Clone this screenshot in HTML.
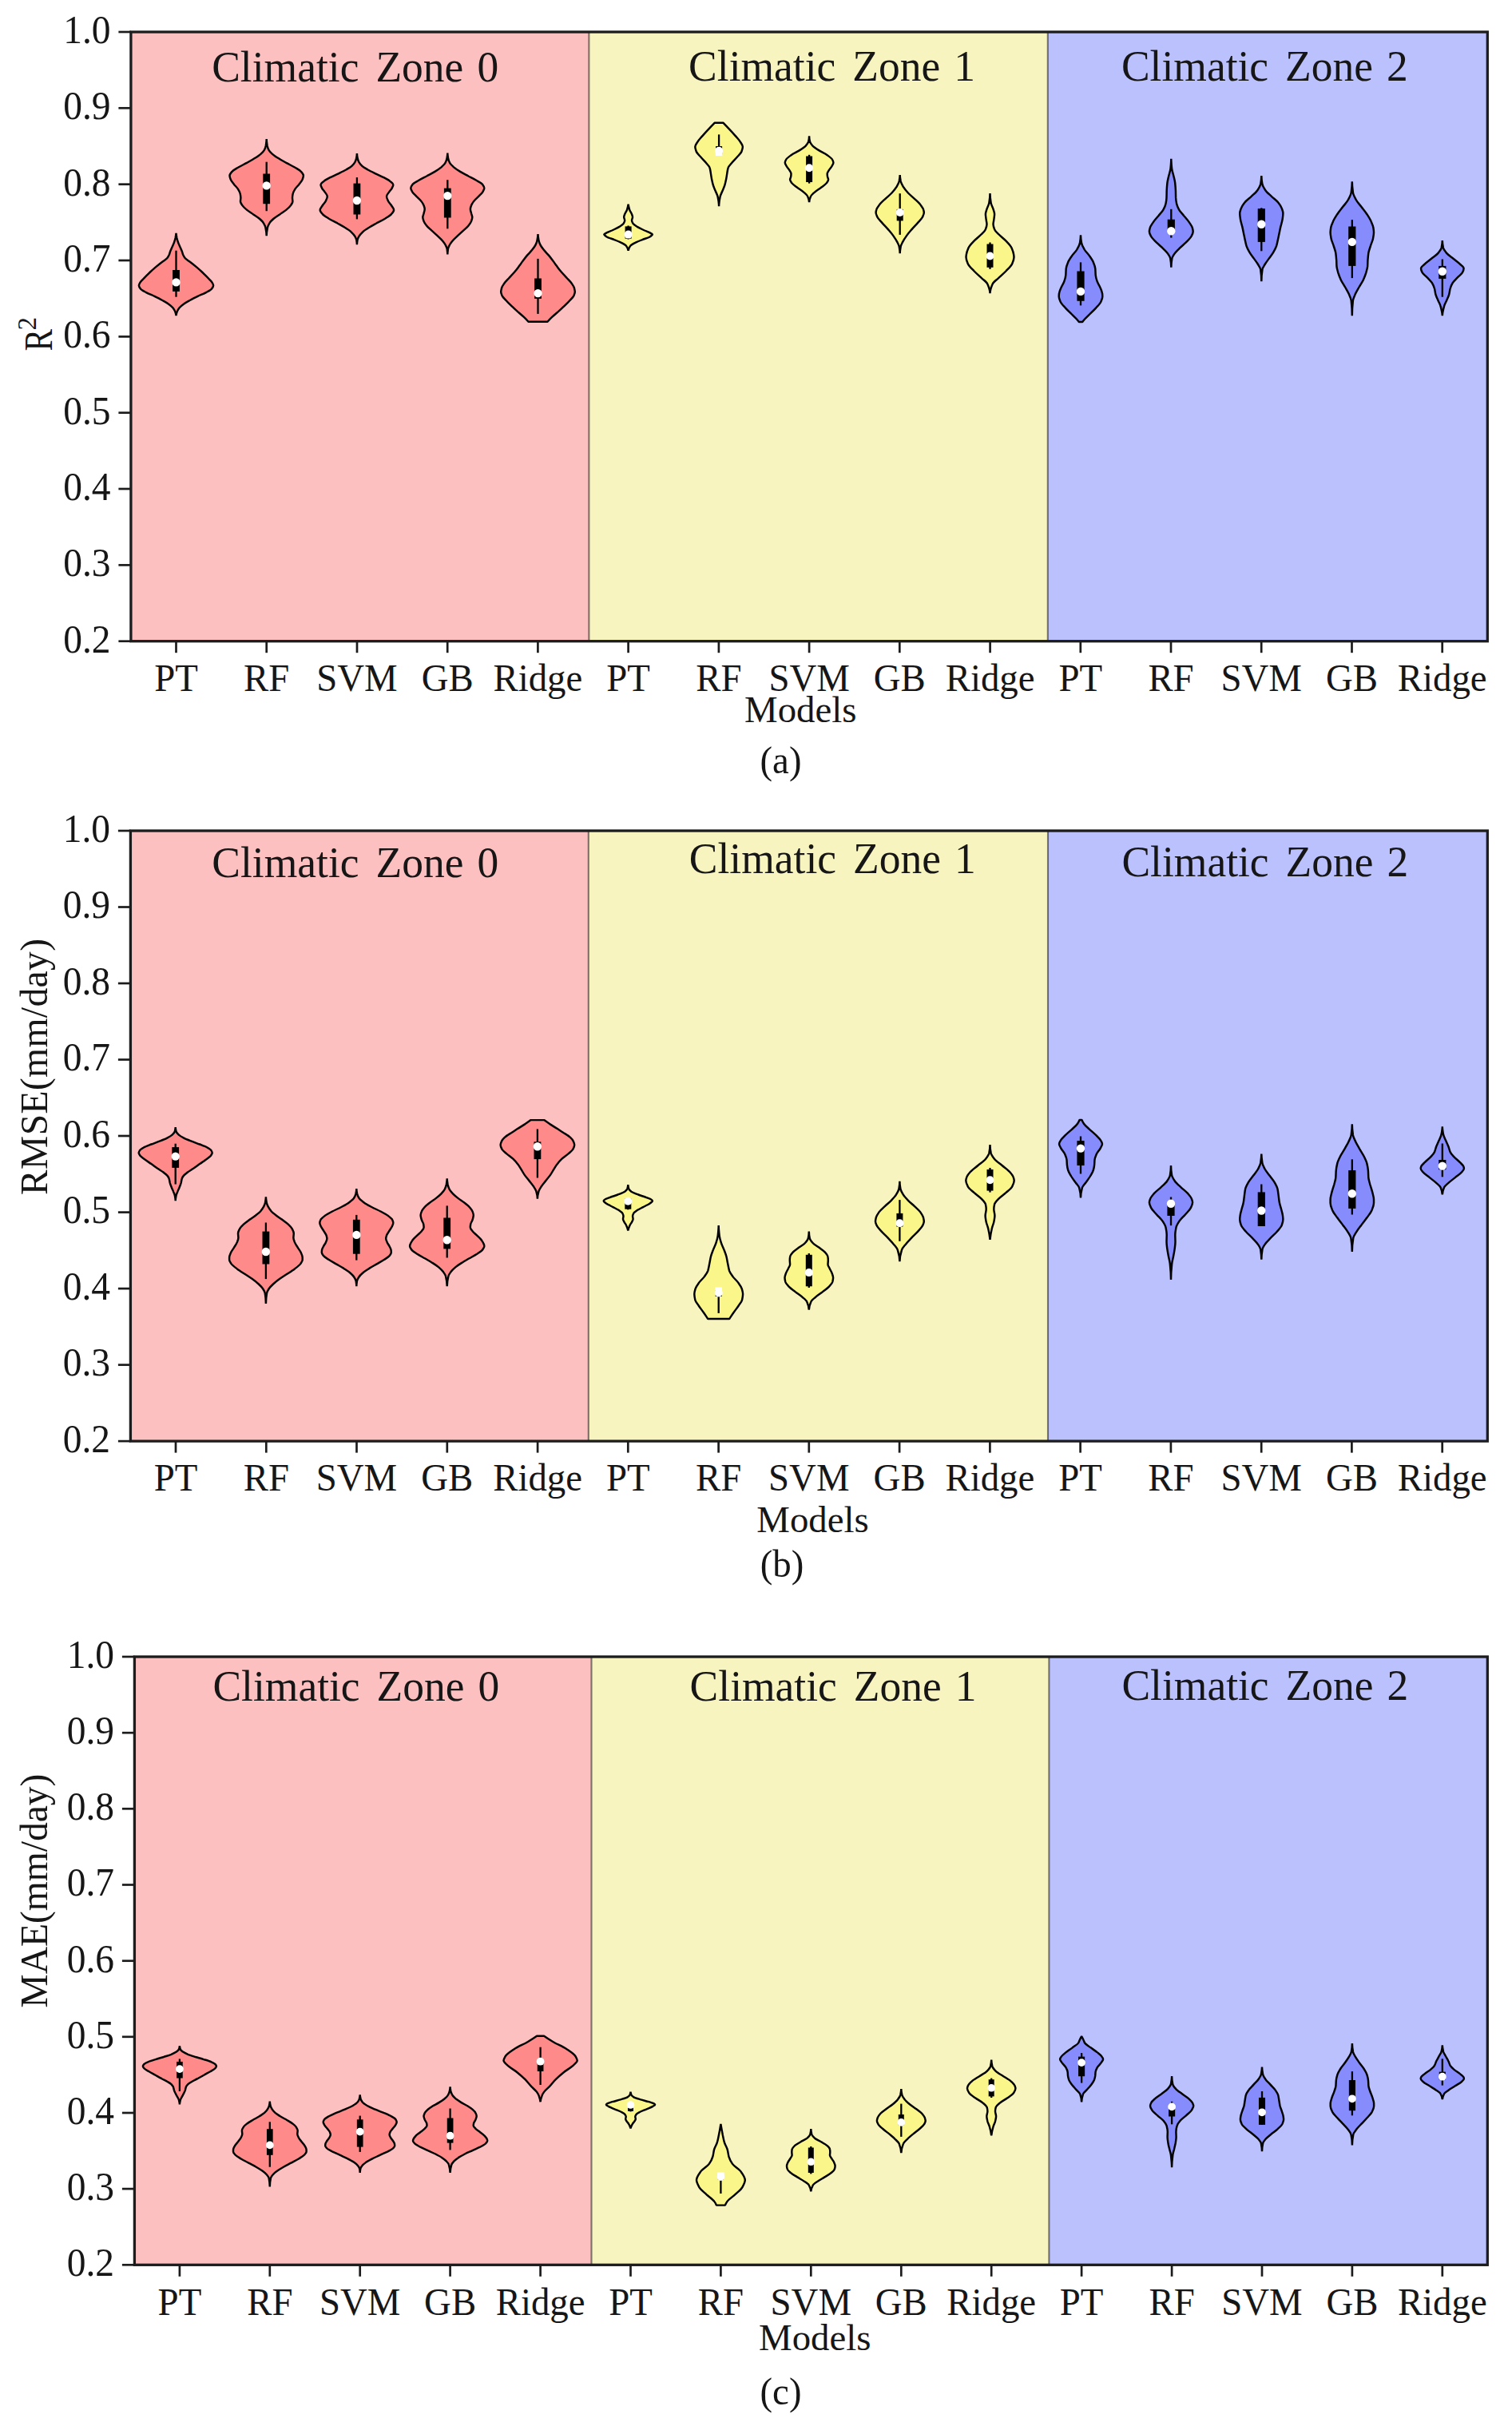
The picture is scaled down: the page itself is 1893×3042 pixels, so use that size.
<!DOCTYPE html>
<html lang="en">
<head>
<meta charset="utf-8">
<title>Model performance by climatic zone</title>
<style>
html,body{margin:0;padding:0;background:#fff;}
body{width:1893px;height:3042px;overflow:hidden;}
svg{display:block;}
</style>
</head>
<body>
<svg width="1893" height="3042" viewBox="0 0 1893 3042" font-family='"Liberation Serif", "Times New Roman", Times, serif' fill="#161616">
<rect width="1893" height="3042" fill="#fff"/>
<g id="panel-a">
<rect x="163.9" y="40" width="573.5" height="762.7" fill="#fdc0c0"/>
<rect x="737.4" y="40" width="574.4" height="762.7" fill="#f8f4c0"/>
<rect x="1311.8" y="40" width="550.5" height="762.7" fill="#bbc1fd"/>
<line x1="737.4" y1="40" x2="737.4" y2="802.7" stroke="#000" stroke-opacity="0.5" stroke-width="2.1"/>
<line x1="1311.8" y1="40" x2="1311.8" y2="802.7" stroke="#000" stroke-opacity="0.5" stroke-width="2.1"/>
<path d="M220.5 291.9C220.7 293.9 221 295.9 221.4 297.9C221.8 299.7 222.4 301.6 223 303.4C223.6 305.3 224.6 307.1 225.4 309C226.2 310.8 227.1 312.7 227.8 314.5C228.4 316.1 228.7 317.7 229.4 319.3C230 320.6 230.7 322 231.8 323.3C233.1 324.9 236.1 326.4 238.1 328C240.9 330.1 243.6 332.3 246.1 334.4C248.9 336.8 251.5 339.1 254 341.5C256.8 344.2 259.5 346.8 261.9 349.5C263.3 351.1 265.1 352.6 265.9 354.2C266.4 355.3 267.1 356.3 267.1 357.4C267.1 358.7 266.1 360.1 265.1 361.4C263.9 363 260.8 364.5 258 366.1C255.2 367.7 250.9 369.3 247.6 370.9C244.3 372.5 241 374.1 238.1 375.7C235.3 377.3 232.4 378.8 230.2 380.4C228 382 225.9 383.6 224.6 385.2C223.4 386.8 222.4 388.3 221.8 389.9C221.2 391.6 220.6 393.4 220.5 395.1C220.4 393.4 219.8 391.6 219.2 389.9C218.6 388.3 217.6 386.8 216.4 385.2C215.1 383.6 213 382 210.8 380.4C208.6 378.8 205.7 377.3 202.9 375.7C200 374.1 196.7 372.5 193.4 370.9C190.1 369.3 185.8 367.7 183 366.1C180.2 364.5 177.1 363 175.9 361.4C174.9 360.1 173.9 358.7 173.9 357.4C173.9 356.3 174.6 355.3 175.1 354.2C175.9 352.6 177.7 351.1 179.1 349.5C181.5 346.8 184.2 344.2 187 341.5C189.5 339.1 192.1 336.8 194.9 334.4C197.4 332.3 200.1 330.1 202.9 328C204.9 326.4 207.9 324.9 209.2 323.3C210.3 322 211 320.6 211.6 319.3C212.3 317.7 212.6 316.1 213.2 314.5C213.9 312.7 214.8 310.8 215.6 309C216.4 307.1 217.4 305.3 218 303.4C218.6 301.6 219.2 299.7 219.6 297.9C220 295.9 220.3 293.9 220.5 291.9Z" fill="#ff8a8a" stroke="#000" stroke-width="2.45" stroke-linejoin="bevel"/>
<line x1="220.5" y1="313.7" x2="220.5" y2="371.7" stroke="#000" stroke-width="2.3"/>
<line x1="220.5" y1="338" x2="220.5" y2="364.9" stroke="#000" stroke-width="8.8"/>
<circle cx="220.5" cy="353.4" r="5.2" fill="#fff"/>
<path d="M333.7 174.1C333.7 176.9 334.2 179.7 334.6 182.5C335 184.3 335.7 186.2 336.6 188C337.4 189.6 339.2 191.2 341 192.8C343 194.6 346 196.5 348.9 198.3C351.8 200.2 355.2 202 358.5 203.9C362 205.9 366.4 207.8 369.6 209.8C372.2 211.4 375.3 213 376.7 214.6C378.2 216.3 379.9 218.1 379.9 219.8C379.9 221.4 379.3 222.9 378.7 224.5C377.9 226.6 375.9 228.8 374.3 230.9C372.9 232.7 370.8 234.6 369.6 236.4C368.4 238.3 367.2 240.1 366.8 242C366.4 243.8 366 245.7 366 247.5C366 249.1 366.4 250.7 366.4 252.3C366.4 253.9 365.1 255.5 364 257.1C362.8 258.9 360.7 260.8 358.5 262.6C356.3 264.5 353.2 266.3 350.5 268.2C347.9 270 344.7 271.9 342.6 273.7C340.5 275.6 338.5 277.4 337.4 279.3C336.3 281.1 335.4 283 335 284.8C334.3 288.3 333.7 291.7 333.7 295.2C333.7 291.7 333.1 288.3 332.4 284.8C332 283 331.1 281.1 330 279.3C328.9 277.4 326.9 275.6 324.8 273.7C322.7 271.9 319.5 270 316.9 268.2C314.2 266.3 311.1 264.5 308.9 262.6C306.7 260.8 304.6 258.9 303.4 257.1C302.3 255.5 301 253.9 301 252.3C301 250.7 301.4 249.1 301.4 247.5C301.4 245.7 301 243.8 300.6 242C300.2 240.1 299 238.3 297.8 236.4C296.6 234.6 294.5 232.7 293.1 230.9C291.5 228.8 289.5 226.6 288.7 224.5C288.1 222.9 287.5 221.4 287.5 219.8C287.5 218.1 289.2 216.3 290.7 214.6C292.1 213 295.2 211.4 297.8 209.8C301 207.8 305.4 205.9 308.9 203.9C312.2 202 315.6 200.2 318.5 198.3C321.4 196.5 324.4 194.6 326.4 192.8C328.2 191.2 330 189.6 330.8 188C331.7 186.2 332.4 184.3 332.8 182.5C333.2 179.7 333.7 176.9 333.7 174.1Z" fill="#ff8a8a" stroke="#000" stroke-width="2.45" stroke-linejoin="bevel"/>
<line x1="333.7" y1="202.7" x2="333.7" y2="264.2" stroke="#000" stroke-width="2.3"/>
<line x1="333.7" y1="217.5" x2="333.7" y2="255.2" stroke="#000" stroke-width="8.8"/>
<circle cx="333.7" cy="232.4" r="5.2" fill="#fff"/>
<path d="M446.9 191.9C446.9 194 447.3 196.2 447.7 198.3C448 199.9 448.6 201.4 449.4 203C450.2 204.6 451.7 206.2 453.4 207.8C455.1 209.4 457.9 210.9 460.6 212.5C463.4 214.1 466.8 215.7 470.1 217.3C473.4 218.9 477.4 220.5 480.4 222.1C483.4 223.7 486.5 225.2 488.3 226.8C490 228.3 492.3 229.7 492.3 231.2C492.3 232.7 491.4 234.1 490.7 235.6C489.9 237.2 488.1 238.7 487.1 240.3C485.9 242.2 484 244 484 245.9C484 247.7 485 249.6 485.9 251.4C486.8 253.3 488.7 255.1 489.9 257C491.1 259 493.1 260.9 493.1 262.9C493.1 264.6 491.4 266.4 489.9 268.1C488.3 270 485 271.8 482 273.7C479 275.5 475 277.4 471.7 279.2C468.4 281.1 465 282.9 462.1 284.8C459.2 286.6 456.2 288.5 454.2 290.3C452.2 292.2 450.4 294 449.4 295.9C448.5 297.5 447.8 299 447.5 300.6C447.2 302.5 446.9 304.3 446.9 306.2C446.9 304.3 446.6 302.5 446.3 300.6C446 299 445.3 297.5 444.4 295.9C443.4 294 441.6 292.2 439.6 290.3C437.6 288.5 434.6 286.6 431.7 284.8C428.8 282.9 425.4 281.1 422.1 279.2C418.8 277.4 414.8 275.5 411.8 273.7C408.8 271.8 405.5 270 403.9 268.1C402.4 266.4 400.7 264.6 400.7 262.9C400.7 260.9 402.7 259 403.9 257C405.1 255.1 407 253.3 407.9 251.4C408.8 249.6 409.8 247.7 409.8 245.9C409.8 244 407.9 242.2 406.7 240.3C405.7 238.7 403.9 237.2 403.1 235.6C402.4 234.1 401.5 232.7 401.5 231.2C401.5 229.7 403.8 228.3 405.5 226.8C407.3 225.2 410.4 223.7 413.4 222.1C416.4 220.5 420.4 218.9 423.7 217.3C427 215.7 430.4 214.1 433.2 212.5C435.9 210.9 438.7 209.4 440.4 207.8C442.1 206.2 443.6 204.6 444.4 203C445.2 201.4 445.8 199.9 446.1 198.3C446.5 196.2 446.9 194 446.9 191.9Z" fill="#ff8a8a" stroke="#000" stroke-width="2.45" stroke-linejoin="bevel"/>
<line x1="446.9" y1="222.1" x2="446.9" y2="274.4" stroke="#000" stroke-width="2.3"/>
<line x1="446.9" y1="229.6" x2="446.9" y2="268.5" stroke="#000" stroke-width="8.8"/>
<circle cx="446.9" cy="251" r="5.2" fill="#fff"/>
<path d="M560.3 191.5C560.3 193.8 560.7 196 561.1 198.3C561.4 200.1 562.1 202 563.1 203.8C564.1 205.7 566.1 207.5 568.2 209.4C570.3 211.2 573.2 213.1 576.2 214.9C579.2 216.8 583 218.6 586.5 220.5C589.9 222.3 593.8 224.2 596.8 226C599.5 227.6 602.8 229.2 604 230.8C605.2 232.4 606.3 234 606.3 235.6C606.3 237.2 605.2 238.7 604.3 240.3C603.2 242.2 601 244 599.2 245.9C597.4 247.7 595 249.6 593.6 251.4C592.2 253.3 590.8 255.1 590.1 257C589.5 258.6 588.9 260.1 588.9 261.7C588.9 263.6 589.7 265.4 590.1 267.3C590.5 268.9 591.3 270.5 591.3 272.1C591.3 273.7 590.7 275.2 590.1 276.8C589.4 278.7 588 280.5 586.5 282.4C584.9 284.5 582.3 286.6 580.1 288.7C577.8 290.8 575.3 293 573 295.1C570.8 297.2 568.3 299.3 566.6 301.4C565.1 303.3 563.6 305.1 562.7 307C561.9 308.6 561.1 310.1 560.9 311.7C560.6 314 560.3 316.2 560.3 318.5C560.3 316.2 560 314 559.7 311.7C559.5 310.1 558.7 308.6 557.9 307C557 305.1 555.5 303.3 554 301.4C552.3 299.3 549.8 297.2 547.6 295.1C545.3 293 542.8 290.8 540.5 288.7C538.3 286.6 535.7 284.5 534.1 282.4C532.6 280.5 531.2 278.7 530.5 276.8C529.9 275.2 529.3 273.7 529.3 272.1C529.3 270.5 530.1 268.9 530.5 267.3C530.9 265.4 531.7 263.6 531.7 261.7C531.7 260.1 531.1 258.6 530.5 257C529.8 255.1 528.4 253.3 527 251.4C525.6 249.6 523.2 247.7 521.4 245.9C519.6 244 517.4 242.2 516.3 240.3C515.4 238.7 514.3 237.2 514.3 235.6C514.3 234 515.4 232.4 516.6 230.8C517.8 229.2 521.1 227.6 523.8 226C526.8 224.2 530.7 222.3 534.1 220.5C537.6 218.6 541.4 216.8 544.4 214.9C547.4 213.1 550.3 211.2 552.4 209.4C554.5 207.5 556.5 205.7 557.5 203.8C558.5 202 559.2 200.1 559.5 198.3C559.9 196 560.3 193.8 560.3 191.5Z" fill="#ff8a8a" stroke="#000" stroke-width="2.45" stroke-linejoin="bevel"/>
<line x1="560.3" y1="225.2" x2="560.3" y2="286.3" stroke="#000" stroke-width="2.3"/>
<line x1="560.3" y1="235.6" x2="560.3" y2="272.5" stroke="#000" stroke-width="8.8"/>
<circle cx="560.3" cy="245.1" r="5.2" fill="#fff"/>
<path d="M673.5 292.9C673.5 295.6 674 298.2 674.5 300.9C674.8 302.7 675.5 304.6 676.4 306.4C677.4 308.5 679.1 310.7 680.8 312.8C682.6 315.2 685.2 317.5 687.2 319.9C689.2 322.3 690.9 324.7 692.7 327.1C694.1 328.9 695.3 330.8 696.7 332.6C698.5 335 700.2 337.4 702.2 339.8C704.4 342.4 707 345.1 709.4 347.7C711.5 350.1 714.1 352.4 715.7 354.8C717 356.7 718.4 358.5 718.9 360.4C719.3 362 719.8 363.6 719.8 365.2C719.8 366.8 719.1 368.3 718.5 369.9C717.6 372 715.2 374.2 713.3 376.3C711.2 378.7 708.7 381 706.2 383.4C703.7 385.8 701 388.2 698.3 390.6C695.9 392.7 693.3 394.8 691.1 396.9C689.1 398.8 687.2 400.8 685.5 402.7L661.5 402.7C659.8 400.8 657.9 398.8 655.9 396.9C653.7 394.8 651.1 392.7 648.7 390.6C646 388.2 643.3 385.8 640.8 383.4C638.3 381 635.8 378.7 633.7 376.3C631.8 374.2 629.4 372 628.5 369.9C627.9 368.3 627.2 366.8 627.2 365.2C627.2 363.6 627.7 362 628.1 360.4C628.6 358.5 630 356.7 631.3 354.8C632.9 352.4 635.5 350.1 637.6 347.7C640 345.1 642.6 342.4 644.8 339.8C646.8 337.4 648.5 335 650.3 332.6C651.7 330.8 652.9 328.9 654.3 327.1C656.1 324.7 657.8 322.3 659.8 319.9C661.8 317.5 664.4 315.2 666.2 312.8C667.9 310.7 669.6 308.5 670.6 306.4C671.5 304.6 672.2 302.7 672.5 300.9C673 298.2 673.5 295.6 673.5 292.9Z" fill="#ff8a8a" stroke="#000" stroke-width="2.45" stroke-linejoin="bevel"/>
<line x1="673.5" y1="323.9" x2="673.5" y2="392.9" stroke="#000" stroke-width="2.3"/>
<line x1="673.5" y1="348.5" x2="673.5" y2="373.9" stroke="#000" stroke-width="8.8"/>
<circle cx="673.5" cy="367.1" r="5.2" fill="#fff"/>
<path d="M786.6 255.7C786.8 257.9 787.4 260.1 788.1 262.3C788.7 264.2 790.3 266.2 791 268.1C791.4 269.3 792 270.5 792 271.7C792 273.2 791 274.6 791 276.1C791 277.3 791.7 278.5 792.4 279.7C793.3 281.2 795.9 282.6 798.2 284.1C800.5 285.6 803.9 287 807 288.5C809.5 289.7 813.1 290.9 815 292.1C815.8 292.6 816.9 293.1 816.9 293.6C816.9 294.6 815 295.5 813.5 296.5C811.6 297.7 807.1 298.9 804.1 300.1C801 301.3 797.7 302.6 795.3 303.8C793 305 790.4 306.2 789.5 307.4C787.9 309.6 786.6 311.7 786.6 313.9C786.6 311.7 785.3 309.6 783.7 307.4C782.8 306.2 780.2 305 777.9 303.8C775.5 302.6 772.2 301.3 769.1 300.1C766.1 298.9 761.6 297.7 759.7 296.5C758.2 295.5 756.3 294.6 756.3 293.6C756.3 293.1 757.4 292.6 758.2 292.1C760.1 290.9 763.7 289.7 766.2 288.5C769.3 287 772.7 285.6 775 284.1C777.3 282.6 779.9 281.2 780.8 279.7C781.5 278.5 782.2 277.3 782.2 276.1C782.2 274.6 781.2 273.2 781.2 271.7C781.2 270.5 781.8 269.3 782.2 268.1C782.9 266.2 784.5 264.2 785.1 262.3C785.8 260.1 786.4 257.9 786.6 255.7Z" fill="#faf68a" stroke="#000" stroke-width="2.45" stroke-linejoin="bevel"/>
<line x1="786.6" y1="282.5" x2="786.6" y2="299.5" stroke="#000" stroke-width="2.3"/>
<line x1="786.6" y1="283.4" x2="786.6" y2="298.7" stroke="#000" stroke-width="8"/>
<circle cx="786.6" cy="293.6" r="5" fill="#fff"/>
<path d="M905.6 153.8C908.2 156.5 910.7 159.1 913.2 161.8C915.9 164.7 918.7 167.7 921.2 170.6C923.2 173 925.5 175.4 927 177.8C928.2 179.8 929.9 181.7 929.9 183.7C929.9 185.6 929.2 187.6 928.5 189.5C927.6 191.9 924.8 194.4 922.7 196.8C920.7 199.2 918.1 201.6 916.1 204C914.5 206 912.3 207.9 911.7 209.9C910.9 212.3 910.7 214.7 910.3 217.1C909.9 219.5 909.6 222 909.1 224.4C908.6 226.8 908.1 229.3 907.4 231.7C906.7 234.1 905.5 236.6 904.5 239C903.5 241.4 902.1 243.9 901.6 246.3C900.8 250.3 900.1 254.2 900.1 258.2C900.1 254.2 899.4 250.3 898.6 246.3C898.1 243.9 896.7 241.4 895.7 239C894.7 236.6 893.5 234.1 892.8 231.7C892.1 229.3 891.6 226.8 891.1 224.4C890.6 222 890.3 219.5 889.9 217.1C889.5 214.7 889.3 212.3 888.5 209.9C887.9 207.9 885.7 206 884.1 204C882.1 201.6 879.5 199.2 877.5 196.8C875.4 194.4 872.6 191.9 871.7 189.5C871 187.6 870.3 185.6 870.3 183.7C870.3 181.7 872 179.8 873.2 177.8C874.7 175.4 877 173 879 170.6C881.5 167.7 884.3 164.7 887 161.8C889.5 159.1 892 156.5 894.6 153.8Z" fill="#faf68a" stroke="#000" stroke-width="2.45" stroke-linejoin="bevel"/>
<line x1="900.1" y1="168.4" x2="900.1" y2="193.5" stroke="#000" stroke-width="2.3"/>
<line x1="900.1" y1="183" x2="900.1" y2="193.5" stroke="#000" stroke-width="8"/>
<rect x="895.8" y="187.5" width="8.6" height="7.5" fill="#fff"/>
<circle cx="900.1" cy="188.8" r="5" fill="#fff"/>
<path d="M1013.1 170.2C1013.1 172.6 1013.5 175.1 1014.1 177.5C1014.5 179.2 1016 180.9 1017.5 182.6C1019.2 184.5 1022.5 186.5 1025.5 188.4C1028.5 190.3 1033.1 192.3 1035.7 194.2C1038.3 196.1 1041.3 198.1 1042.2 200C1042.8 201.2 1043.4 202.5 1043.4 203.7C1043.4 205.1 1042.3 206.6 1041.5 208C1040.6 209.7 1038.8 211.4 1037.8 213.1C1037 214.6 1035.7 216 1035.7 217.5C1035.7 218.7 1035.8 219.9 1036 221.1C1036.2 222.3 1037.1 223.6 1037.1 224.8C1037.1 226.2 1035.9 227.7 1034.9 229.1C1033.5 231.1 1030.2 233 1027.7 235C1025.2 236.9 1021.8 238.9 1019.7 240.8C1017.8 242.5 1015.7 244.2 1015 245.9C1014 248.3 1013.1 250.8 1013.1 253.2C1013.1 250.8 1012.2 248.3 1011.2 245.9C1010.5 244.2 1008.4 242.5 1006.5 240.8C1004.4 238.9 1001 236.9 998.5 235C996 233 992.7 231.1 991.3 229.1C990.3 227.7 989.1 226.2 989.1 224.8C989.1 223.6 990 222.3 990.2 221.1C990.4 219.9 990.5 218.7 990.5 217.5C990.5 216 989.2 214.6 988.4 213.1C987.4 211.4 985.6 209.7 984.7 208C983.9 206.6 982.8 205.1 982.8 203.7C982.8 202.5 983.4 201.2 984 200C984.9 198.1 987.9 196.1 990.5 194.2C993.1 192.3 997.7 190.3 1000.7 188.4C1003.7 186.5 1007 184.5 1008.7 182.6C1010.2 180.9 1011.7 179.2 1012.1 177.5C1012.7 175.1 1013.1 172.6 1013.1 170.2Z" fill="#faf68a" stroke="#000" stroke-width="2.45" stroke-linejoin="bevel"/>
<line x1="1013.1" y1="193.8" x2="1013.1" y2="229.6" stroke="#000" stroke-width="2.3"/>
<line x1="1013.1" y1="195.5" x2="1013.1" y2="228" stroke="#000" stroke-width="8"/>
<circle cx="1013.1" cy="210.2" r="5" fill="#fff"/>
<path d="M1126.7 219C1126.7 221.7 1127.2 224.3 1127.7 227C1128.2 229.4 1129.7 231.8 1131.1 234.2C1132.5 236.6 1134.7 239.1 1136.9 241.5C1139.1 243.9 1142.4 246.4 1144.9 248.8C1147.4 251.2 1150.4 253.7 1152.2 256.1C1153.8 258.3 1155.7 260.4 1156.2 262.6C1156.5 263.8 1156.8 265.1 1156.8 266.3C1156.8 268 1155.9 269.7 1155.1 271.4C1154 273.8 1151.4 276.2 1149.3 278.6C1147 281.3 1144.3 283.9 1142 286.6C1139.7 289.3 1137.3 291.9 1135.4 294.6C1133.5 297.3 1131.7 299.9 1130.3 302.6C1129.3 304.6 1128.1 306.5 1127.7 308.5C1127.2 311.4 1126.7 314.3 1126.7 317.2C1126.7 314.3 1126.2 311.4 1125.7 308.5C1125.3 306.5 1124.1 304.6 1123.1 302.6C1121.7 299.9 1119.9 297.3 1118 294.6C1116.1 291.9 1113.7 289.3 1111.4 286.6C1109.1 283.9 1106.4 281.3 1104.1 278.6C1102 276.2 1099.4 273.8 1098.3 271.4C1097.5 269.7 1096.6 268 1096.6 266.3C1096.6 265.1 1096.9 263.8 1097.2 262.6C1097.7 260.4 1099.6 258.3 1101.2 256.1C1103 253.7 1106 251.2 1108.5 248.8C1111 246.4 1114.3 243.9 1116.5 241.5C1118.7 239.1 1120.9 236.6 1122.3 234.2C1123.7 231.8 1125.2 229.4 1125.7 227C1126.2 224.3 1126.7 221.7 1126.7 219Z" fill="#faf68a" stroke="#000" stroke-width="2.45" stroke-linejoin="bevel"/>
<line x1="1126.7" y1="242.2" x2="1126.7" y2="293.9" stroke="#000" stroke-width="2.3"/>
<line x1="1126.7" y1="261.9" x2="1126.7" y2="276.4" stroke="#000" stroke-width="8"/>
<circle cx="1126.7" cy="266" r="5" fill="#fff"/>
<path d="M1239.5 241.9C1239.5 245.9 1240 249.8 1240.6 253.8C1241 256.4 1242.7 259.1 1243.5 261.7C1244.1 263.8 1245.1 266 1245.1 268.1C1245.1 270.5 1244.6 272.8 1244.3 275.2C1244.1 277.1 1243.5 278.9 1243.5 280.8C1243.5 282.9 1244.3 285 1245.1 287.1C1245.9 289.2 1248.5 291.4 1250.6 293.5C1253.1 296.1 1256.8 298.8 1259.3 301.4C1262.1 304.3 1265.2 307.3 1266.5 310.2C1267.8 313.1 1268.8 316 1269.2 318.9C1269.3 320 1269.5 321 1269.5 322.1C1269.5 324.7 1268.4 327.4 1267.3 330C1266 333.2 1262.3 336.3 1259.3 339.5C1256.5 342.4 1252.8 345.4 1249.8 348.3C1247.3 350.7 1243.8 353 1242.7 355.4C1240.9 359.4 1239.5 363.3 1239.5 367.3C1239.5 363.3 1238.1 359.4 1236.3 355.4C1235.2 353 1231.7 350.7 1229.2 348.3C1226.2 345.4 1222.5 342.4 1219.7 339.5C1216.7 336.3 1213 333.2 1211.7 330C1210.6 327.4 1209.5 324.7 1209.5 322.1C1209.5 321 1209.7 320 1209.8 318.9C1210.2 316 1211.2 313.1 1212.5 310.2C1213.8 307.3 1216.9 304.3 1219.7 301.4C1222.2 298.8 1225.9 296.1 1228.4 293.5C1230.5 291.4 1233.1 289.2 1233.9 287.1C1234.7 285 1235.5 282.9 1235.5 280.8C1235.5 278.9 1234.9 277.1 1234.7 275.2C1234.4 272.8 1233.9 270.5 1233.9 268.1C1233.9 266 1234.9 263.8 1235.5 261.7C1236.3 259.1 1238 256.4 1238.4 253.8C1239 249.8 1239.5 245.9 1239.5 241.9Z" fill="#faf68a" stroke="#000" stroke-width="2.45" stroke-linejoin="bevel"/>
<line x1="1239.5" y1="303.5" x2="1239.5" y2="336.8" stroke="#000" stroke-width="2.3"/>
<line x1="1239.5" y1="305.5" x2="1239.5" y2="334.8" stroke="#000" stroke-width="8"/>
<circle cx="1239.5" cy="320.5" r="5" fill="#fff"/>
<path d="M1353 294.3C1353 297.7 1353.5 301.2 1354.1 304.6C1354.6 307.2 1356.3 309.9 1357.8 312.5C1359.4 315.2 1362.3 317.8 1364.1 320.5C1365.9 323.1 1367.8 325.8 1368.9 328.4C1370 331 1371.1 333.7 1371.3 336.3C1371.5 339 1371.5 341.6 1371.7 344.3C1371.9 346.9 1372.7 349.6 1373.6 352.2C1374.5 354.9 1376.5 357.5 1377.6 360.2C1378.6 362.6 1379.7 364.9 1380 367.3C1380.2 368.6 1380.3 370 1380.3 371.3C1380.3 373.4 1379.3 375.5 1378.4 377.6C1377.3 380.3 1374.4 382.9 1372 385.6C1369.7 388.2 1366.7 390.9 1364.1 393.5C1362 395.6 1359.7 397.7 1357.8 399.8C1356.9 400.9 1356 401.9 1355.2 403L1350.8 403C1350 401.9 1349.1 400.9 1348.2 399.8C1346.3 397.7 1344 395.6 1341.9 393.5C1339.3 390.9 1336.3 388.2 1334 385.6C1331.6 382.9 1328.7 380.3 1327.6 377.6C1326.7 375.5 1325.7 373.4 1325.7 371.3C1325.7 370 1325.8 368.6 1326 367.3C1326.3 364.9 1327.4 362.6 1328.4 360.2C1329.5 357.5 1331.5 354.9 1332.4 352.2C1333.3 349.6 1334.1 346.9 1334.3 344.3C1334.5 341.6 1334.5 339 1334.7 336.3C1334.9 333.7 1336 331 1337.1 328.4C1338.2 325.8 1340.1 323.1 1341.9 320.5C1343.7 317.8 1346.6 315.2 1348.2 312.5C1349.7 309.9 1351.4 307.2 1351.9 304.6C1352.5 301.2 1353 297.7 1353 294.3Z" fill="#878cfd" stroke="#000" stroke-width="2.45" stroke-linejoin="bevel"/>
<line x1="1353" y1="328.4" x2="1353" y2="382.4" stroke="#000" stroke-width="2.3"/>
<line x1="1353" y1="339.5" x2="1353" y2="376.8" stroke="#000" stroke-width="9.2"/>
<circle cx="1353" cy="364.9" r="5.2" fill="#fff"/>
<path d="M1466.3 198.7C1466.3 202.8 1466.7 206.8 1467.1 210.9C1467.4 213.9 1468.6 217 1469.3 220C1470 223 1470.9 226.1 1471.2 229.1C1471.5 232.1 1471.8 235.2 1471.9 238.2C1472 241.3 1472 244.3 1472.1 247.4C1472.2 249.9 1472.6 252.5 1473.1 255C1473.6 257.5 1474.8 260.1 1476.2 262.6C1477.6 265.1 1480.3 267.7 1482.3 270.2C1484.6 273 1487.3 275.8 1489.1 278.6C1490.6 280.9 1492.3 283.1 1492.9 285.4C1493.3 286.9 1493.7 288.5 1493.7 290C1493.7 292 1492.5 294 1491.4 296C1490 298.6 1487.1 301.1 1484.6 303.7C1482.1 306.2 1478.7 308.8 1476.2 311.3C1474 313.6 1471.6 315.8 1470.1 318.1C1469 319.9 1467.7 321.6 1467.4 323.4C1466.7 327.2 1466.3 331 1466.3 334.8C1466.3 331 1465.9 327.2 1465.2 323.4C1464.9 321.6 1463.6 319.9 1462.5 318.1C1461 315.8 1458.6 313.6 1456.4 311.3C1453.9 308.8 1450.5 306.2 1448 303.7C1445.5 301.1 1442.6 298.6 1441.2 296C1440.1 294 1438.9 292 1438.9 290C1438.9 288.5 1439.3 286.9 1439.7 285.4C1440.3 283.1 1442 280.9 1443.5 278.6C1445.3 275.8 1448 273 1450.3 270.2C1452.3 267.7 1455 265.1 1456.4 262.6C1457.8 260.1 1459 257.5 1459.5 255C1460 252.5 1460.4 249.9 1460.5 247.4C1460.6 244.3 1460.6 241.3 1460.7 238.2C1460.8 235.2 1461.1 232.1 1461.4 229.1C1461.7 226.1 1462.6 223 1463.3 220C1464 217 1465.2 213.9 1465.5 210.9C1465.9 206.8 1466.3 202.8 1466.3 198.7Z" fill="#878cfd" stroke="#000" stroke-width="2.45" stroke-linejoin="bevel"/>
<line x1="1466.3" y1="261.8" x2="1466.3" y2="297.6" stroke="#000" stroke-width="2.3"/>
<line x1="1466.3" y1="274.7" x2="1466.3" y2="290" stroke="#000" stroke-width="9.2"/>
<circle cx="1466.3" cy="289.2" r="5.2" fill="#fff"/>
<path d="M1579.3 220C1579.3 223.5 1579.8 227.1 1580.4 230.6C1580.9 233.1 1582.6 235.7 1584.3 238.2C1586 240.7 1589.3 243.3 1591.9 245.8C1594.6 248.4 1598.3 250.9 1600.3 253.5C1602.3 256 1604 258.6 1604.9 261.1C1605.6 263.1 1606.4 265.1 1606.4 267.1C1606.4 269.6 1606 272.2 1605.6 274.7C1605.2 277.8 1604 280.8 1603.3 283.9C1602.6 286.9 1602 290 1601.4 293C1600.9 295.5 1600.4 298.1 1599.8 300.6C1599.2 303.1 1598.8 305.7 1598 308.2C1597.2 310.7 1595.7 313.3 1594.2 315.8C1592.7 318.3 1590.7 320.9 1588.9 323.4C1587.1 325.9 1585.1 328.5 1583.6 331C1582.4 333 1580.8 335.1 1580.5 337.1C1579.7 342.2 1579.3 347.2 1579.3 352.3C1579.3 347.2 1578.9 342.2 1578.1 337.1C1577.8 335.1 1576.2 333 1575 331C1573.5 328.5 1571.5 325.9 1569.7 323.4C1567.9 320.9 1565.9 318.3 1564.4 315.8C1562.9 313.3 1561.4 310.7 1560.6 308.2C1559.8 305.7 1559.4 303.1 1558.8 300.6C1558.2 298.1 1557.7 295.5 1557.2 293C1556.6 290 1556 286.9 1555.3 283.9C1554.6 280.8 1553.4 277.8 1553 274.7C1552.6 272.2 1552.2 269.6 1552.2 267.1C1552.2 265.1 1553 263.1 1553.7 261.1C1554.6 258.6 1556.3 256 1558.3 253.5C1560.3 250.9 1564 248.4 1566.7 245.8C1569.3 243.3 1572.6 240.7 1574.3 238.2C1576 235.7 1577.7 233.1 1578.2 230.6C1578.8 227.1 1579.3 223.5 1579.3 220Z" fill="#878cfd" stroke="#000" stroke-width="2.45" stroke-linejoin="bevel"/>
<line x1="1579.3" y1="260.3" x2="1579.3" y2="314.3" stroke="#000" stroke-width="2.3"/>
<line x1="1579.3" y1="261.1" x2="1579.3" y2="302.9" stroke="#000" stroke-width="9.2"/>
<circle cx="1579.3" cy="280.8" r="5.2" fill="#fff"/>
<path d="M1692.8 227.2C1692.8 231.8 1693.3 236.3 1693.9 240.9C1694.3 243.9 1696.1 247 1697.7 250C1699.3 253 1702.2 256.1 1704.5 259.1C1706.8 262.1 1709.4 265.2 1711.4 268.2C1713.4 271.3 1715.4 274.3 1716.7 277.4C1717.8 279.9 1719 282.5 1719.4 285C1719.7 287 1720 289.1 1720 291.1C1720 293.6 1719.5 296.2 1719 298.7C1718.4 301.7 1716.8 304.8 1715.9 307.8C1715 310.8 1713.7 313.9 1713.3 316.9C1712.9 319.9 1712.6 323 1712.4 326C1712.3 328.6 1712.3 331.1 1712.1 333.7C1711.9 336.2 1711 338.8 1710.3 341.3C1709.4 344.3 1708.2 347.4 1706.8 350.4C1705.4 353.4 1703.2 356.5 1701.5 359.5C1699.8 362.5 1697.9 365.6 1696.6 368.6C1695.5 371.1 1694.2 373.7 1693.9 376.2C1693.2 382.6 1692.8 388.9 1692.8 395.3C1692.8 388.9 1692.4 382.6 1691.7 376.2C1691.4 373.7 1690.1 371.1 1689 368.6C1687.7 365.6 1685.8 362.5 1684.1 359.5C1682.4 356.5 1680.2 353.4 1678.8 350.4C1677.4 347.4 1676.2 344.3 1675.3 341.3C1674.6 338.8 1673.7 336.2 1673.5 333.7C1673.3 331.1 1673.3 328.6 1673.2 326C1673 323 1672.7 319.9 1672.3 316.9C1671.9 313.9 1670.6 310.8 1669.7 307.8C1668.8 304.8 1667.2 301.7 1666.6 298.7C1666.1 296.2 1665.6 293.6 1665.6 291.1C1665.6 289.1 1665.9 287 1666.2 285C1666.6 282.5 1667.8 279.9 1668.9 277.4C1670.2 274.3 1672.2 271.3 1674.2 268.2C1676.2 265.2 1678.8 262.1 1681.1 259.1C1683.4 256.1 1686.3 253 1687.9 250C1689.5 247 1691.3 243.9 1691.7 240.9C1692.3 236.3 1692.8 231.8 1692.8 227.2Z" fill="#878cfd" stroke="#000" stroke-width="2.45" stroke-linejoin="bevel"/>
<line x1="1692.8" y1="275.1" x2="1692.8" y2="348.1" stroke="#000" stroke-width="2.3"/>
<line x1="1692.8" y1="283.5" x2="1692.8" y2="332.9" stroke="#000" stroke-width="9.2"/>
<circle cx="1692.8" cy="302.9" r="5.2" fill="#fff"/>
<path d="M1805.8 300.9C1805.8 304 1806.3 307 1806.9 310.1C1807.4 312.4 1809.2 314.6 1811.1 316.9C1813 319.2 1816.7 321.5 1819.5 323.8C1822.3 326.1 1825.6 328.3 1827.9 330.6C1829.7 332.4 1832.6 334.1 1832.6 335.9C1832.6 337.7 1831.8 339.5 1830.9 341.3C1829.9 343.3 1826.7 345.3 1824.8 347.3C1822.6 349.6 1820.1 351.9 1818.7 354.2C1817.4 356.5 1816.3 358.7 1815.7 361C1815 363.5 1814.9 366.1 1814.2 368.6C1813.5 371.1 1812.2 373.7 1811.1 376.2C1810.1 378.5 1808.7 380.8 1808.1 383.1C1807 387.2 1805.9 391.2 1805.8 395.3C1805.7 391.2 1804.6 387.2 1803.5 383.1C1802.9 380.8 1801.5 378.5 1800.5 376.2C1799.4 373.7 1798.1 371.1 1797.4 368.6C1796.7 366.1 1796.6 363.5 1795.9 361C1795.3 358.7 1794.2 356.5 1792.9 354.2C1791.5 351.9 1789 349.6 1786.8 347.3C1784.9 345.3 1781.7 343.3 1780.7 341.3C1779.8 339.5 1779 337.7 1779 335.9C1779 334.1 1781.9 332.4 1783.7 330.6C1786 328.3 1789.3 326.1 1792.1 323.8C1794.9 321.5 1798.6 319.2 1800.5 316.9C1802.4 314.6 1804.2 312.4 1804.7 310.1C1805.3 307 1805.8 304 1805.8 300.9Z" fill="#878cfd" stroke="#000" stroke-width="2.45" stroke-linejoin="bevel"/>
<line x1="1805.8" y1="324.5" x2="1805.8" y2="371.7" stroke="#000" stroke-width="2.3"/>
<line x1="1805.8" y1="332.9" x2="1805.8" y2="348.9" stroke="#000" stroke-width="9.2"/>
<circle cx="1805.8" cy="339.7" r="5.2" fill="#fff"/>
<rect x="163.9" y="40" width="1698.4" height="762.7" fill="none" stroke="#1c1c1c" stroke-width="3.3"/>
<line x1="148.4" y1="40" x2="163.9" y2="40" stroke="#1c1c1c" stroke-width="2.7"/>
<text transform="translate(138.6 53.8) scale(1 1.045)" font-size="47.5" text-anchor="end">1.0</text>
<line x1="148.4" y1="135.3" x2="163.9" y2="135.3" stroke="#1c1c1c" stroke-width="2.7"/>
<text transform="translate(138.6 149.1) scale(1 1.045)" font-size="47.5" text-anchor="end">0.9</text>
<line x1="148.4" y1="230.7" x2="163.9" y2="230.7" stroke="#1c1c1c" stroke-width="2.7"/>
<text transform="translate(138.6 244.5) scale(1 1.045)" font-size="47.5" text-anchor="end">0.8</text>
<line x1="148.4" y1="326" x2="163.9" y2="326" stroke="#1c1c1c" stroke-width="2.7"/>
<text transform="translate(138.6 339.8) scale(1 1.045)" font-size="47.5" text-anchor="end">0.7</text>
<line x1="148.4" y1="421.4" x2="163.9" y2="421.4" stroke="#1c1c1c" stroke-width="2.7"/>
<text transform="translate(138.6 435.2) scale(1 1.045)" font-size="47.5" text-anchor="end">0.6</text>
<line x1="148.4" y1="516.7" x2="163.9" y2="516.7" stroke="#1c1c1c" stroke-width="2.7"/>
<text transform="translate(138.6 530.5) scale(1 1.045)" font-size="47.5" text-anchor="end">0.5</text>
<line x1="148.4" y1="612" x2="163.9" y2="612" stroke="#1c1c1c" stroke-width="2.7"/>
<text transform="translate(138.6 625.8) scale(1 1.045)" font-size="47.5" text-anchor="end">0.4</text>
<line x1="148.4" y1="707.4" x2="163.9" y2="707.4" stroke="#1c1c1c" stroke-width="2.7"/>
<text transform="translate(138.6 721.2) scale(1 1.045)" font-size="47.5" text-anchor="end">0.3</text>
<line x1="148.4" y1="802.7" x2="163.9" y2="802.7" stroke="#1c1c1c" stroke-width="2.7"/>
<text transform="translate(138.6 816.5) scale(1 1.045)" font-size="47.5" text-anchor="end">0.2</text>
<line x1="220.5" y1="802.7" x2="220.5" y2="817.2" stroke="#1c1c1c" stroke-width="2.7"/>
<text transform="translate(220.5 865.3) scale(1 1.05)" font-size="46.8" text-anchor="middle">PT</text>
<line x1="333.7" y1="802.7" x2="333.7" y2="817.2" stroke="#1c1c1c" stroke-width="2.7"/>
<text transform="translate(333.7 865.3) scale(1 1.05)" font-size="46.8" text-anchor="middle">RF</text>
<line x1="447" y1="802.7" x2="447" y2="817.2" stroke="#1c1c1c" stroke-width="2.7"/>
<text transform="translate(447 865.3) scale(1 1.05)" font-size="46.8" text-anchor="middle">SVM</text>
<line x1="560.2" y1="802.7" x2="560.2" y2="817.2" stroke="#1c1c1c" stroke-width="2.7"/>
<text transform="translate(560.2 865.3) scale(1 1.05)" font-size="46.8" text-anchor="middle">GB</text>
<line x1="673.4" y1="802.7" x2="673.4" y2="817.2" stroke="#1c1c1c" stroke-width="2.7"/>
<text transform="translate(673.4 865.3) scale(1 1.05)" font-size="46.8" text-anchor="middle">Ridge</text>
<line x1="786.6" y1="802.7" x2="786.6" y2="817.2" stroke="#1c1c1c" stroke-width="2.7"/>
<text transform="translate(786.6 865.3) scale(1 1.05)" font-size="46.8" text-anchor="middle">PT</text>
<line x1="899.9" y1="802.7" x2="899.9" y2="817.2" stroke="#1c1c1c" stroke-width="2.7"/>
<text transform="translate(899.9 865.3) scale(1 1.05)" font-size="46.8" text-anchor="middle">RF</text>
<line x1="1013.1" y1="802.7" x2="1013.1" y2="817.2" stroke="#1c1c1c" stroke-width="2.7"/>
<text transform="translate(1013.1 865.3) scale(1 1.05)" font-size="46.8" text-anchor="middle">SVM</text>
<line x1="1126.3" y1="802.7" x2="1126.3" y2="817.2" stroke="#1c1c1c" stroke-width="2.7"/>
<text transform="translate(1126.3 865.3) scale(1 1.05)" font-size="46.8" text-anchor="middle">GB</text>
<line x1="1239.6" y1="802.7" x2="1239.6" y2="817.2" stroke="#1c1c1c" stroke-width="2.7"/>
<text transform="translate(1239.6 865.3) scale(1 1.05)" font-size="46.8" text-anchor="middle">Ridge</text>
<line x1="1352.8" y1="802.7" x2="1352.8" y2="817.2" stroke="#1c1c1c" stroke-width="2.7"/>
<text transform="translate(1352.8 865.3) scale(1 1.05)" font-size="46.8" text-anchor="middle">PT</text>
<line x1="1466" y1="802.7" x2="1466" y2="817.2" stroke="#1c1c1c" stroke-width="2.7"/>
<text transform="translate(1466 865.3) scale(1 1.05)" font-size="46.8" text-anchor="middle">RF</text>
<line x1="1579.2" y1="802.7" x2="1579.2" y2="817.2" stroke="#1c1c1c" stroke-width="2.7"/>
<text transform="translate(1579.2 865.3) scale(1 1.05)" font-size="46.8" text-anchor="middle">SVM</text>
<line x1="1692.5" y1="802.7" x2="1692.5" y2="817.2" stroke="#1c1c1c" stroke-width="2.7"/>
<text transform="translate(1692.5 865.3) scale(1 1.05)" font-size="46.8" text-anchor="middle">GB</text>
<line x1="1805.7" y1="802.7" x2="1805.7" y2="817.2" stroke="#1c1c1c" stroke-width="2.7"/>
<text transform="translate(1805.7 865.3) scale(1 1.05)" font-size="46.8" text-anchor="middle">Ridge</text>
<text transform="translate(0 101.5) scale(1 1.015)" font-size="53.5"><tspan x="265.2">Climatic</tspan> <tspan x="470.4">Zone</tspan> <tspan x="597.4">0</tspan></text>
<text transform="translate(0 101.2) scale(1 1.015)" font-size="53.5"><tspan x="862.1">Climatic</tspan> <tspan x="1067.3">Zone</tspan> <tspan x="1194.3">1</tspan></text>
<text transform="translate(0 101.2) scale(1 1.015)" font-size="53.5"><tspan x="1403.9">Climatic</tspan> <tspan x="1609.1">Zone</tspan> <tspan x="1736.1">2</tspan></text>
<text x="1002.3" y="903.7" font-size="46.8" text-anchor="middle">Models</text>
<text transform="translate(977.5 967.8) scale(1 1.06)" font-size="46.8" text-anchor="middle">(a)</text>
<g transform="translate(64.8 439.6) rotate(-90)"><text transform="scale(0.82 1)" font-size="50.5">R</text><text x="26" y="-19.8" font-size="33">2</text></g>
</g>
<g id="panel-b">
<rect x="163.4" y="1040" width="573.4" height="764.1" fill="#fdc0c0"/>
<rect x="736.8" y="1040" width="575.2" height="764.1" fill="#f8f4c0"/>
<rect x="1312" y="1040" width="550.3" height="764.1" fill="#bbc1fd"/>
<line x1="736.8" y1="1040" x2="736.8" y2="1804.1" stroke="#000" stroke-opacity="0.5" stroke-width="2.1"/>
<line x1="1312" y1="1040" x2="1312" y2="1804.1" stroke="#000" stroke-opacity="0.5" stroke-width="2.1"/>
<path d="M219.7 1411.1C219.7 1413 220.1 1414.8 220.6 1416.7C221 1418 222.4 1419.3 223.8 1420.6C225.2 1421.9 227.7 1423.3 230.2 1424.6C232.7 1425.9 236.4 1427.3 239.7 1428.6C243 1429.9 246.7 1431.2 250 1432.5C253.3 1433.8 257.3 1435.2 259.5 1436.5C261.7 1437.8 264 1439.2 264.7 1440.5C265.2 1441.4 265.7 1442.4 265.7 1443.3C265.7 1444.5 264.7 1445.6 263.9 1446.8C262.8 1448.4 260.1 1450 258 1451.6C255.6 1453.4 252.6 1455.3 250 1457.1C247.3 1459 244.8 1460.8 242.1 1462.7C239.8 1464.3 237 1465.9 234.9 1467.5C233.2 1468.8 231.2 1470.1 230.2 1471.4C229.1 1472.7 228.2 1474.1 227.8 1475.4C227.2 1477.3 227.1 1479.1 226.6 1481C226.1 1482.8 225.3 1484.7 224.6 1486.5C223.9 1488.4 222.9 1490.2 222.2 1492.1C221.6 1493.7 220.8 1495.2 220.5 1496.8C220.1 1498.9 219.7 1501.1 219.7 1503.2C219.7 1501.1 219.3 1498.9 218.9 1496.8C218.6 1495.2 217.8 1493.7 217.2 1492.1C216.5 1490.2 215.5 1488.4 214.8 1486.5C214.1 1484.7 213.3 1482.8 212.8 1481C212.3 1479.1 212.2 1477.3 211.6 1475.4C211.2 1474.1 210.3 1472.7 209.2 1471.4C208.2 1470.1 206.2 1468.8 204.5 1467.5C202.4 1465.9 199.6 1464.3 197.3 1462.7C194.6 1460.8 192.1 1459 189.4 1457.1C186.8 1455.3 183.8 1453.4 181.4 1451.6C179.3 1450 176.6 1448.4 175.5 1446.8C174.7 1445.6 173.7 1444.5 173.7 1443.3C173.7 1442.4 174.2 1441.4 174.7 1440.5C175.4 1439.2 177.7 1437.8 179.9 1436.5C182.1 1435.2 186.1 1433.8 189.4 1432.5C192.7 1431.2 196.4 1429.9 199.7 1428.6C203 1427.3 206.7 1425.9 209.2 1424.6C211.7 1423.3 214.2 1421.9 215.6 1420.6C217 1419.3 218.4 1418 218.8 1416.7C219.3 1414.8 219.7 1413 219.7 1411.1Z" fill="#ff8a8a" stroke="#000" stroke-width="2.45" stroke-linejoin="bevel"/>
<line x1="219.7" y1="1431.7" x2="219.7" y2="1482.5" stroke="#000" stroke-width="2.3"/>
<line x1="219.7" y1="1436.1" x2="219.7" y2="1461.9" stroke="#000" stroke-width="8.8"/>
<circle cx="219.7" cy="1447.6" r="5.2" fill="#fff"/>
<path d="M332.9 1498.3C332.9 1500.6 333.3 1502.8 333.7 1505.1C334 1506.9 334.8 1508.8 335.7 1510.6C336.6 1512.5 338 1514.3 339.6 1516.2C341.2 1518 343.7 1519.9 346 1521.7C348.4 1523.6 351.4 1525.4 353.9 1527.3C356.4 1529.2 359.2 1531 361.1 1532.9C363 1534.7 364.9 1536.6 365.8 1538.4C366.7 1540.3 367.8 1542.1 367.8 1544C367.8 1545.8 367.4 1547.7 367.4 1549.5C367.4 1551.4 368.3 1553.2 369 1555.1C369.8 1557.2 371.3 1559.3 372.6 1561.4C373.9 1563.5 375.7 1565.7 376.6 1567.8C377.5 1569.9 378.7 1572 378.7 1574.1C378.7 1575.2 378.7 1576.2 378.7 1577.3C378.7 1578.9 377.3 1580.5 376.2 1582.1C374.7 1584.2 371.7 1586.3 369 1588.4C366.2 1590.5 362.7 1592.7 359.5 1594.8C356.4 1596.9 352.9 1599 350 1601.1C347.1 1603.2 344.3 1605.4 342 1607.5C340.1 1609.3 338.1 1611.2 336.9 1613C335.7 1614.9 334.4 1616.7 334.1 1618.6C333.3 1623.1 332.9 1627.6 332.9 1632.1C332.9 1627.6 332.5 1623.1 331.7 1618.6C331.4 1616.7 330.1 1614.9 328.9 1613C327.7 1611.2 325.7 1609.3 323.8 1607.5C321.5 1605.4 318.7 1603.2 315.8 1601.1C312.9 1599 309.4 1596.9 306.3 1594.8C303.1 1592.7 299.6 1590.5 296.8 1588.4C294.1 1586.3 291.1 1584.2 289.6 1582.1C288.5 1580.5 287.1 1578.9 287.1 1577.3C287.1 1576.2 287.1 1575.2 287.1 1574.1C287.1 1572 288.3 1569.9 289.2 1567.8C290.1 1565.7 291.9 1563.5 293.2 1561.4C294.5 1559.3 296 1557.2 296.8 1555.1C297.5 1553.2 298.4 1551.4 298.4 1549.5C298.4 1547.7 298 1545.8 298 1544C298 1542.1 299.1 1540.3 300 1538.4C300.9 1536.6 302.8 1534.7 304.7 1532.9C306.6 1531 309.4 1529.2 311.9 1527.3C314.4 1525.4 317.4 1523.6 319.8 1521.7C322.1 1519.9 324.6 1518 326.2 1516.2C327.8 1514.3 329.2 1512.5 330.1 1510.6C331 1508.8 331.8 1506.9 332.1 1505.1C332.5 1502.8 332.9 1500.6 332.9 1498.3Z" fill="#ff8a8a" stroke="#000" stroke-width="2.45" stroke-linejoin="bevel"/>
<line x1="332.9" y1="1530.5" x2="332.9" y2="1601.1" stroke="#000" stroke-width="2.3"/>
<line x1="332.9" y1="1541.6" x2="332.9" y2="1582.5" stroke="#000" stroke-width="8.8"/>
<circle cx="332.9" cy="1567" r="5.2" fill="#fff"/>
<path d="M446.3 1487.9C446.3 1490 446.7 1492.2 447.1 1494.3C447.5 1496.1 448.3 1498 449.5 1499.8C450.7 1501.7 453.3 1503.5 455.8 1505.4C458.3 1507.3 461.8 1509.1 465.3 1511C468.7 1512.8 473.1 1514.7 476.5 1516.5C480 1518.4 483.5 1520.2 486 1522.1C488.1 1523.7 490.4 1525.2 491.1 1526.8C491.7 1528.1 492.3 1529.5 492.3 1530.8C492.3 1532.4 491.4 1534 490.7 1535.6C489.9 1537.4 488.3 1539.3 487.2 1541.1C486.1 1543 484.5 1544.8 484 1546.7C483.6 1548 483.2 1549.3 483.2 1550.6C483.2 1552.2 484.1 1553.8 484.8 1555.4C485.5 1557 486.8 1558.6 487.6 1560.2C488.4 1561.8 489.4 1563.3 489.6 1564.9C489.7 1566 489.8 1567 489.8 1568.1C489.8 1569.4 488.6 1570.8 487.6 1572.1C486.4 1573.7 483.6 1575.2 481.2 1576.8C478.4 1578.7 474.9 1580.5 471.7 1582.4C468.6 1584.2 465.1 1586.1 462.2 1587.9C459.3 1589.8 456.3 1591.6 454.2 1593.5C452.1 1595.3 450.2 1597.2 449.1 1599C448.1 1600.6 447.2 1602.2 446.9 1603.8C446.6 1605.9 446.3 1608.1 446.3 1610.2C446.3 1608.1 446 1605.9 445.7 1603.8C445.4 1602.2 444.5 1600.6 443.5 1599C442.4 1597.2 440.5 1595.3 438.4 1593.5C436.3 1591.6 433.3 1589.8 430.4 1587.9C427.5 1586.1 424 1584.2 420.9 1582.4C417.7 1580.5 414.2 1578.7 411.4 1576.8C409 1575.2 406.2 1573.7 405 1572.1C404 1570.8 402.8 1569.4 402.8 1568.1C402.8 1567 402.9 1566 403 1564.9C403.2 1563.3 404.2 1561.8 405 1560.2C405.8 1558.6 407.1 1557 407.8 1555.4C408.5 1553.8 409.4 1552.2 409.4 1550.6C409.4 1549.3 409 1548 408.6 1546.7C408.1 1544.8 406.5 1543 405.4 1541.1C404.3 1539.3 402.7 1537.4 401.9 1535.6C401.2 1534 400.3 1532.4 400.3 1530.8C400.3 1529.5 400.9 1528.1 401.5 1526.8C402.2 1525.2 404.5 1523.7 406.6 1522.1C409.1 1520.2 412.6 1518.4 416.1 1516.5C419.5 1514.7 423.9 1512.8 427.3 1511C430.8 1509.1 434.3 1507.3 436.8 1505.4C439.3 1503.5 441.9 1501.7 443.1 1499.8C444.3 1498 445.1 1496.1 445.5 1494.3C445.9 1492.2 446.3 1490 446.3 1487.9Z" fill="#ff8a8a" stroke="#000" stroke-width="2.45" stroke-linejoin="bevel"/>
<line x1="446.3" y1="1520.9" x2="446.3" y2="1577.6" stroke="#000" stroke-width="2.3"/>
<line x1="446.3" y1="1526.8" x2="446.3" y2="1569.7" stroke="#000" stroke-width="8.8"/>
<circle cx="446.3" cy="1545.9" r="5.2" fill="#fff"/>
<path d="M559.7 1475.3C559.7 1477.7 560.1 1480.1 560.5 1482.5C560.9 1484.6 561.6 1486.7 562.6 1488.8C563.5 1490.7 565.2 1492.5 567 1494.4C568.7 1496.2 571.1 1498.1 573.4 1499.9C575.8 1501.8 578.9 1503.6 581.3 1505.5C583.6 1507.3 586 1509.2 587.6 1511C589.2 1512.9 590.9 1514.7 591.6 1516.6C592.2 1518.2 592.8 1519.7 592.8 1521.3C592.8 1523.2 592.1 1525 591.6 1526.9C591.1 1528.8 589.5 1530.6 589.2 1532.5C589 1533.8 588.8 1535.1 588.8 1536.4C588.8 1538 590.4 1539.6 591.6 1541.2C593 1543 595.4 1544.9 597.2 1546.7C599.1 1548.6 601.4 1550.4 602.7 1552.3C604 1554.2 605.4 1556 605.9 1557.9C606.1 1558.7 606.3 1559.4 606.3 1560.2C606.3 1561.5 605.2 1562.9 604.3 1564.2C603 1566.1 599.9 1567.9 597.2 1569.8C594.5 1571.6 590.8 1573.5 587.6 1575.3C584.4 1577.2 581 1579 578.1 1580.9C575.2 1582.7 572.4 1584.6 570.2 1586.4C568 1588.3 566 1590.1 564.6 1592C563.3 1593.8 561.8 1595.7 561.4 1597.5C560.4 1601.7 559.7 1606 559.7 1610.2C559.7 1606 559 1601.7 558 1597.5C557.6 1595.7 556.1 1593.8 554.8 1592C553.4 1590.1 551.4 1588.3 549.2 1586.4C547 1584.6 544.2 1582.7 541.3 1580.9C538.4 1579 535 1577.2 531.8 1575.3C528.6 1573.5 524.9 1571.6 522.2 1569.8C519.5 1567.9 516.4 1566.1 515.1 1564.2C514.2 1562.9 513.1 1561.5 513.1 1560.2C513.1 1559.4 513.3 1558.7 513.5 1557.9C514 1556 515.4 1554.2 516.7 1552.3C518 1550.4 520.3 1548.6 522.2 1546.7C524 1544.9 526.4 1543 527.8 1541.2C529 1539.6 530.6 1538 530.6 1536.4C530.6 1535.1 530.4 1533.8 530.2 1532.5C529.9 1530.6 528.3 1528.8 527.8 1526.9C527.3 1525 526.6 1523.2 526.6 1521.3C526.6 1519.7 527.2 1518.2 527.8 1516.6C528.5 1514.7 530.2 1512.9 531.8 1511C533.4 1509.2 535.8 1507.3 538.1 1505.5C540.5 1503.6 543.6 1501.8 546 1499.9C548.3 1498.1 550.7 1496.2 552.4 1494.4C554.2 1492.5 555.9 1490.7 556.8 1488.8C557.8 1486.7 558.5 1484.6 558.9 1482.5C559.3 1480.1 559.7 1477.7 559.7 1475.3Z" fill="#ff8a8a" stroke="#000" stroke-width="2.45" stroke-linejoin="bevel"/>
<line x1="559.7" y1="1509.4" x2="559.7" y2="1574.5" stroke="#000" stroke-width="2.3"/>
<line x1="559.7" y1="1524.5" x2="559.7" y2="1563.4" stroke="#000" stroke-width="8.8"/>
<circle cx="559.7" cy="1552.3" r="5.2" fill="#fff"/>
<path d="M681.2 1402.1C683.5 1403.8 685.9 1405.4 688.4 1407.1C691.2 1408.9 694.2 1410.8 697.1 1412.6C700 1414.5 703 1416.3 705.8 1418.2C708.6 1420 711.9 1421.9 713.8 1423.7C715.5 1425.3 717 1426.9 717.7 1428.5C718.4 1430.1 719.2 1431.7 719.2 1433.3C719.2 1435.1 718.3 1437 717.3 1438.8C716.3 1440.7 713.5 1442.5 711.4 1444.4C709 1446.5 705.7 1448.6 703.5 1450.7C701 1453.1 698.9 1455.5 697.1 1457.9C695.6 1460 694.4 1462.1 693.1 1464.2C691.8 1466.3 690.7 1468.5 689.2 1470.6C687.6 1473 685.4 1475.3 683.6 1477.7C681.8 1480.1 679.6 1482.4 678.1 1484.8C676.7 1486.9 675.1 1489.1 674.5 1491.2C673.6 1494.4 672.9 1497.5 672.9 1500.7C672.9 1497.5 672.2 1494.4 671.3 1491.2C670.7 1489.1 669.1 1486.9 667.7 1484.8C666.2 1482.4 664 1480.1 662.2 1477.7C660.4 1475.3 658.2 1473 656.6 1470.6C655.1 1468.5 654 1466.3 652.7 1464.2C651.4 1462.1 650.2 1460 648.7 1457.9C646.9 1455.5 644.8 1453.1 642.3 1450.7C640.1 1448.6 636.8 1446.5 634.4 1444.4C632.3 1442.5 629.5 1440.7 628.5 1438.8C627.5 1437 626.6 1435.1 626.6 1433.3C626.6 1431.7 627.4 1430.1 628.1 1428.5C628.8 1426.9 630.3 1425.3 632 1423.7C633.9 1421.9 637.2 1420 640 1418.2C642.8 1416.3 645.8 1414.5 648.7 1412.6C651.6 1410.8 654.6 1408.9 657.4 1407.1C659.9 1405.4 662.3 1403.8 664.6 1402.1Z" fill="#ff8a8a" stroke="#000" stroke-width="2.45" stroke-linejoin="bevel"/>
<line x1="672.9" y1="1413.4" x2="672.9" y2="1474.5" stroke="#000" stroke-width="2.3"/>
<line x1="672.9" y1="1429.3" x2="672.9" y2="1451.1" stroke="#000" stroke-width="8.8"/>
<circle cx="672.9" cy="1435.3" r="5.2" fill="#fff"/>
<path d="M786.3 1483.1C786.3 1484.8 786.7 1486.5 787.2 1488.2C787.6 1489.4 788.9 1490.6 790.4 1491.8C792 1493 795.9 1494.3 799.1 1495.5C802.2 1496.7 806.3 1497.9 809.3 1499.1C811.7 1500.1 814.8 1501 815.8 1502C816.3 1502.5 816.9 1503 816.9 1503.5C816.9 1504.5 815 1505.4 813.7 1506.4C811.7 1507.9 808.4 1509.3 805.7 1510.8C803.1 1512.2 799.8 1513.7 797.7 1515.1C795.9 1516.3 793.9 1517.6 793.3 1518.8C792.7 1520 792.1 1521.2 792.1 1522.4C792.1 1523.6 792.6 1524.8 792.6 1526C792.6 1527.2 791.7 1528.5 791.1 1529.7C790.4 1531.1 789.1 1532.6 788.5 1534C787.5 1536.2 786.7 1538.4 786.3 1540.6C785.9 1538.4 785.1 1536.2 784.1 1534C783.5 1532.6 782.2 1531.1 781.5 1529.7C780.9 1528.5 780 1527.2 780 1526C780 1524.8 780.5 1523.6 780.5 1522.4C780.5 1521.2 779.9 1520 779.3 1518.8C778.7 1517.6 776.7 1516.3 774.9 1515.1C772.8 1513.7 769.5 1512.2 766.9 1510.8C764.2 1509.3 760.9 1507.9 758.9 1506.4C757.6 1505.4 755.7 1504.5 755.7 1503.5C755.7 1503 756.3 1502.5 756.8 1502C757.8 1501 760.9 1500.1 763.3 1499.1C766.3 1497.9 770.4 1496.7 773.5 1495.5C776.7 1494.3 780.6 1493 782.2 1491.8C783.7 1490.6 785 1489.4 785.4 1488.2C785.9 1486.5 786.3 1484.8 786.3 1483.1Z" fill="#faf68a" stroke="#000" stroke-width="2.45" stroke-linejoin="bevel"/>
<line x1="786.3" y1="1499.5" x2="786.3" y2="1514.3" stroke="#000" stroke-width="2.3"/>
<line x1="786.3" y1="1500.5" x2="786.3" y2="1513.7" stroke="#000" stroke-width="8"/>
<circle cx="786.3" cy="1503.8" r="5" fill="#fff"/>
<path d="M899.7 1534C899.7 1538.4 900.2 1542.7 900.7 1547.1C901.1 1550 902 1553 902.9 1555.9C903.8 1558.8 905.4 1561.7 906.5 1564.6C907.6 1567.5 908.8 1570.4 909.5 1573.3C910.2 1576.2 910.6 1579.2 911.2 1582.1C911.8 1585 912.2 1587.9 913.1 1590.8C913.9 1593.2 915.8 1595.7 917.5 1598.1C919.2 1600.5 922.3 1603 924 1605.4C925.9 1608.1 928 1610.7 928.8 1613.4C929.4 1615.6 930.1 1617.7 930.1 1619.9C930.1 1622.3 929.6 1624.8 929.1 1627.2C928.6 1629.6 926.3 1632.1 924.7 1634.5C922.9 1637.2 920.8 1639.8 918.9 1642.5C916.9 1645.3 915 1648.2 913.1 1651L886.3 1651C884.4 1648.2 882.5 1645.3 880.5 1642.5C878.6 1639.8 876.5 1637.2 874.7 1634.5C873.1 1632.1 870.8 1629.6 870.3 1627.2C869.8 1624.8 869.3 1622.3 869.3 1619.9C869.3 1617.7 870 1615.6 870.6 1613.4C871.4 1610.7 873.5 1608.1 875.4 1605.4C877.1 1603 880.2 1600.5 881.9 1598.1C883.6 1595.7 885.5 1593.2 886.3 1590.8C887.2 1587.9 887.6 1585 888.2 1582.1C888.8 1579.2 889.2 1576.2 889.9 1573.3C890.6 1570.4 891.8 1567.5 892.9 1564.6C894 1561.7 895.6 1558.8 896.5 1555.9C897.4 1553 898.3 1550 898.7 1547.1C899.2 1542.7 899.7 1538.4 899.7 1534Z" fill="#faf68a" stroke="#000" stroke-width="2.45" stroke-linejoin="bevel"/>
<line x1="899.7" y1="1616" x2="899.7" y2="1643.9" stroke="#000" stroke-width="2.3"/>
<line x1="899.7" y1="1615" x2="899.7" y2="1623" stroke="#000" stroke-width="8"/>
<rect x="895.4" y="1611.5" width="8.6" height="7.5" fill="#fff"/>
<circle cx="899.7" cy="1618.5" r="5" fill="#fff"/>
<path d="M1012.8 1541.4C1012.8 1544.3 1013.2 1547.3 1013.8 1550.2C1014.2 1552.1 1015.9 1554.1 1017.6 1556C1019.3 1557.9 1023.1 1559.9 1025.6 1561.8C1028.1 1563.7 1031.3 1565.7 1032.9 1567.6C1034.5 1569.5 1036.3 1571.5 1036.5 1573.4C1036.7 1574.9 1036.8 1576.3 1036.8 1577.8C1036.8 1579.5 1036.5 1581.2 1036.5 1582.9C1036.5 1584.6 1037.9 1586.3 1038.7 1588C1039.6 1589.9 1040.9 1591.9 1041.6 1593.8C1042.3 1595.7 1043.1 1597.7 1043.1 1599.6C1043.1 1601.3 1042.7 1603 1042.3 1604.7C1041.8 1606.7 1039.8 1608.6 1038 1610.6C1036 1612.8 1032.8 1614.9 1030 1617.1C1027.2 1619.3 1023.7 1621.5 1021.2 1623.7C1019 1625.6 1016.2 1627.6 1015.4 1629.5C1013.9 1632.9 1012.8 1636.3 1012.8 1639.7C1012.8 1636.3 1011.7 1632.9 1010.2 1629.5C1009.4 1627.6 1006.6 1625.6 1004.4 1623.7C1001.9 1621.5 998.4 1619.3 995.6 1617.1C992.8 1614.9 989.6 1612.8 987.6 1610.6C985.8 1608.6 983.8 1606.7 983.3 1604.7C982.9 1603 982.5 1601.3 982.5 1599.6C982.5 1597.7 983.3 1595.7 984 1593.8C984.7 1591.9 986 1589.9 986.9 1588C987.7 1586.3 989.1 1584.6 989.1 1582.9C989.1 1581.2 988.8 1579.5 988.8 1577.8C988.8 1576.3 988.9 1574.9 989.1 1573.4C989.3 1571.5 991.1 1569.5 992.7 1567.6C994.3 1565.7 997.5 1563.7 1000 1561.8C1002.5 1559.9 1006.3 1557.9 1008 1556C1009.7 1554.1 1011.4 1552.1 1011.8 1550.2C1012.4 1547.3 1012.8 1544.3 1012.8 1541.4Z" fill="#faf68a" stroke="#000" stroke-width="2.45" stroke-linejoin="bevel"/>
<line x1="1012.8" y1="1569" x2="1012.8" y2="1612" stroke="#000" stroke-width="2.3"/>
<line x1="1012.8" y1="1570.8" x2="1012.8" y2="1610.3" stroke="#000" stroke-width="8"/>
<circle cx="1012.8" cy="1593.1" r="5" fill="#fff"/>
<path d="M1126.4 1478.8C1126.4 1482 1126.8 1485.1 1127.4 1488.3C1127.8 1490.7 1129.4 1493.2 1130.9 1495.6C1132.4 1498 1134.7 1500.4 1137 1502.8C1139.3 1505.2 1142.5 1507.7 1145 1510.1C1147.5 1512.5 1150.6 1515 1152.3 1517.4C1153.8 1519.6 1155.3 1521.7 1155.9 1523.9C1156.3 1525.6 1156.8 1527.3 1156.8 1529C1156.8 1530.7 1155.9 1532.4 1155.2 1534.1C1154.1 1536.5 1151.6 1539 1149.4 1541.4C1147 1544.1 1143.9 1546.7 1141.4 1549.4C1138.9 1552.1 1136.2 1554.7 1134.1 1557.4C1132.2 1559.8 1129.7 1562.3 1129 1564.7C1127.5 1569.6 1126.4 1574.4 1126.4 1579.3C1126.4 1574.4 1125.3 1569.6 1123.8 1564.7C1123.1 1562.3 1120.6 1559.8 1118.7 1557.4C1116.6 1554.7 1113.9 1552.1 1111.4 1549.4C1108.9 1546.7 1105.8 1544.1 1103.4 1541.4C1101.2 1539 1098.7 1536.5 1097.6 1534.1C1096.9 1532.4 1096 1530.7 1096 1529C1096 1527.3 1096.5 1525.6 1096.9 1523.9C1097.5 1521.7 1099 1519.6 1100.5 1517.4C1102.2 1515 1105.3 1512.5 1107.8 1510.1C1110.3 1507.7 1113.5 1505.2 1115.8 1502.8C1118.1 1500.4 1120.4 1498 1121.9 1495.6C1123.4 1493.2 1125 1490.7 1125.4 1488.3C1126 1485.1 1126.4 1482 1126.4 1478.8Z" fill="#faf68a" stroke="#000" stroke-width="2.45" stroke-linejoin="bevel"/>
<line x1="1126.4" y1="1502.1" x2="1126.4" y2="1553.8" stroke="#000" stroke-width="2.3"/>
<line x1="1126.4" y1="1518.9" x2="1126.4" y2="1535.6" stroke="#000" stroke-width="8"/>
<circle cx="1126.4" cy="1531.2" r="5" fill="#fff"/>
<path d="M1239.5 1432.9C1239.5 1436.3 1240 1439.8 1240.6 1443.2C1241.1 1445.8 1243.1 1448.5 1245.1 1451.1C1247.1 1453.7 1251.5 1456.4 1254.6 1459C1257.8 1461.7 1261.8 1464.3 1264.1 1467C1266.1 1469.4 1268.2 1471.7 1268.9 1474.1C1269.3 1475.4 1269.7 1476.8 1269.7 1478.1C1269.7 1480.5 1268.5 1482.8 1267.3 1485.2C1266 1487.9 1262.2 1490.5 1259.3 1493.2C1256.4 1495.8 1252.2 1498.5 1249.8 1501.1C1247.9 1503.2 1245.6 1505.4 1245.1 1507.5C1244.6 1509.6 1244.3 1511.7 1244.3 1513.8C1244.3 1516.4 1245.4 1519.1 1245.4 1521.7C1245.4 1524.4 1244.8 1527 1244.3 1529.7C1243.8 1532.3 1242.5 1535 1241.9 1537.6C1240.8 1542.4 1239.9 1547.1 1239.5 1551.9C1239.1 1547.1 1238.2 1542.4 1237.1 1537.6C1236.5 1535 1235.2 1532.3 1234.7 1529.7C1234.2 1527 1233.6 1524.4 1233.6 1521.7C1233.6 1519.1 1234.7 1516.4 1234.7 1513.8C1234.7 1511.7 1234.4 1509.6 1233.9 1507.5C1233.4 1505.4 1231.1 1503.2 1229.2 1501.1C1226.8 1498.5 1222.6 1495.8 1219.7 1493.2C1216.8 1490.5 1213 1487.9 1211.7 1485.2C1210.5 1482.8 1209.3 1480.5 1209.3 1478.1C1209.3 1476.8 1209.7 1475.4 1210.1 1474.1C1210.8 1471.7 1212.9 1469.4 1214.9 1467C1217.2 1464.3 1221.2 1461.7 1224.4 1459C1227.5 1456.4 1231.9 1453.7 1233.9 1451.1C1235.9 1448.5 1237.9 1445.8 1238.4 1443.2C1239 1439.8 1239.5 1436.3 1239.5 1432.9Z" fill="#faf68a" stroke="#000" stroke-width="2.45" stroke-linejoin="bevel"/>
<line x1="1239.5" y1="1462" x2="1239.5" y2="1492.6" stroke="#000" stroke-width="2.3"/>
<line x1="1239.5" y1="1464" x2="1239.5" y2="1490.6" stroke="#000" stroke-width="8"/>
<circle cx="1239.5" cy="1477.3" r="5" fill="#fff"/>
<path d="M1354.5 1401.9C1355 1403.5 1355.9 1405.1 1357 1406.7C1358.6 1409.1 1361.6 1411.4 1364.1 1413.8C1366.9 1416.4 1370.2 1419.1 1372.8 1421.7C1374.9 1423.8 1377.3 1426 1378.4 1428.1C1379.1 1429.4 1380 1430.8 1380 1432.1C1380 1433.9 1378.6 1435.8 1377.6 1437.6C1376.3 1440 1373.8 1442.4 1372.8 1444.8C1371.8 1447.2 1370.7 1449.5 1370.5 1451.9C1370.3 1454 1370.3 1456.2 1370.1 1458.3C1369.9 1460.4 1369.5 1462.5 1368.9 1464.6C1368.2 1467.2 1366.4 1469.9 1364.9 1472.5C1363.3 1475.2 1361.2 1477.8 1359.3 1480.5C1357.8 1482.6 1355.5 1484.7 1354.9 1486.8C1353.8 1491 1353 1495.3 1353 1499.5C1353 1495.3 1352.2 1491 1351.1 1486.8C1350.5 1484.7 1348.2 1482.6 1346.7 1480.5C1344.8 1477.8 1342.7 1475.2 1341.1 1472.5C1339.6 1469.9 1337.8 1467.2 1337.1 1464.6C1336.5 1462.5 1336.1 1460.4 1335.9 1458.3C1335.7 1456.2 1335.7 1454 1335.5 1451.9C1335.3 1449.5 1334.2 1447.2 1333.2 1444.8C1332.2 1442.4 1329.7 1440 1328.4 1437.6C1327.4 1435.8 1326 1433.9 1326 1432.1C1326 1430.8 1326.9 1429.4 1327.6 1428.1C1328.7 1426 1331.1 1423.8 1333.2 1421.7C1335.8 1419.1 1339.1 1416.4 1341.9 1413.8C1344.4 1411.4 1347.4 1409.1 1349 1406.7C1350.1 1405.1 1351 1403.5 1351.5 1401.9Z" fill="#878cfd" stroke="#000" stroke-width="2.45" stroke-linejoin="bevel"/>
<line x1="1353" y1="1422.5" x2="1353" y2="1469.4" stroke="#000" stroke-width="2.3"/>
<line x1="1353" y1="1428.1" x2="1353" y2="1459" stroke="#000" stroke-width="9.2"/>
<circle cx="1353" cy="1437.6" r="5.2" fill="#fff"/>
<path d="M1466 1458.9C1466 1463 1466.4 1467 1467.1 1471.1C1467.5 1473.6 1469.3 1476.2 1471 1478.7C1472.7 1481.2 1475.9 1483.8 1478.6 1486.3C1481.3 1488.8 1484.8 1491.4 1487 1493.9C1489 1496.2 1491.1 1498.4 1491.9 1500.7C1492.5 1502.2 1493.1 1503.8 1493.1 1505.3C1493.1 1507.6 1491.9 1509.8 1490.8 1512.1C1489.5 1514.9 1486.3 1517.7 1483.9 1520.5C1481.5 1523.3 1478.1 1526.1 1476.3 1528.9C1474.7 1531.4 1473 1534 1472.5 1536.5C1471.9 1539.5 1471.3 1542.6 1471.3 1545.6C1471.3 1548.6 1471.5 1551.7 1471.5 1554.7C1471.5 1557.8 1471 1560.8 1470.6 1563.9C1470.2 1566.9 1469.6 1570 1469 1573C1468.4 1576 1467.5 1579.1 1467.2 1582.1C1466.5 1588.7 1466 1595.3 1466 1601.9C1466 1595.3 1465.5 1588.7 1464.8 1582.1C1464.5 1579.1 1463.6 1576 1463 1573C1462.4 1570 1461.8 1566.9 1461.4 1563.9C1461 1560.8 1460.5 1557.8 1460.5 1554.7C1460.5 1551.7 1460.7 1548.6 1460.7 1545.6C1460.7 1542.6 1460.1 1539.5 1459.5 1536.5C1459 1534 1457.3 1531.4 1455.7 1528.9C1453.9 1526.1 1450.5 1523.3 1448.1 1520.5C1445.7 1517.7 1442.5 1514.9 1441.2 1512.1C1440.1 1509.8 1438.9 1507.6 1438.9 1505.3C1438.9 1503.8 1439.5 1502.2 1440.1 1500.7C1440.9 1498.4 1443 1496.2 1445 1493.9C1447.2 1491.4 1450.7 1488.8 1453.4 1486.3C1456.1 1483.8 1459.3 1481.2 1461 1478.7C1462.7 1476.2 1464.5 1473.6 1464.9 1471.1C1465.6 1467 1466 1463 1466 1458.9Z" fill="#878cfd" stroke="#000" stroke-width="2.45" stroke-linejoin="bevel"/>
<line x1="1466" y1="1498.5" x2="1466" y2="1534.2" stroke="#000" stroke-width="2.3"/>
<line x1="1466" y1="1509.1" x2="1466" y2="1522" stroke="#000" stroke-width="9.2"/>
<circle cx="1466" cy="1506.8" r="5.2" fill="#fff"/>
<path d="M1579.3 1444.5C1579.3 1448.3 1579.8 1452.1 1580.4 1455.9C1580.8 1458.4 1582.3 1461 1583.6 1463.5C1585.1 1466.3 1587.6 1469 1589.6 1471.8C1591.6 1474.6 1594.1 1477.4 1595.7 1480.2C1597.3 1483 1598.9 1485.8 1599.5 1488.6C1600.1 1491.4 1600.3 1494.1 1600.7 1496.9C1601.1 1499.7 1601.3 1502.5 1601.8 1505.3C1602.3 1508.1 1603.4 1510.9 1604.1 1513.7C1604.7 1516.2 1605.6 1518.8 1605.9 1521.3C1606.1 1523.1 1606.4 1524.8 1606.4 1526.6C1606.4 1528.9 1605.7 1531.1 1604.9 1533.4C1604 1536.2 1601.2 1539 1598.8 1541.8C1596.4 1544.6 1593 1547.4 1590.4 1550.2C1588 1552.7 1585.2 1555.3 1583.6 1557.8C1582.3 1559.8 1580.8 1561.9 1580.5 1563.9C1579.8 1568.2 1579.3 1572.5 1579.3 1576.8C1579.3 1572.5 1578.8 1568.2 1578.1 1563.9C1577.8 1561.9 1576.3 1559.8 1575 1557.8C1573.4 1555.3 1570.6 1552.7 1568.2 1550.2C1565.6 1547.4 1562.2 1544.6 1559.8 1541.8C1557.4 1539 1554.6 1536.2 1553.7 1533.4C1552.9 1531.1 1552.2 1528.9 1552.2 1526.6C1552.2 1524.8 1552.5 1523.1 1552.7 1521.3C1553 1518.8 1553.9 1516.2 1554.5 1513.7C1555.2 1510.9 1556.3 1508.1 1556.8 1505.3C1557.3 1502.5 1557.5 1499.7 1557.9 1496.9C1558.3 1494.1 1558.5 1491.4 1559.1 1488.6C1559.7 1485.8 1561.3 1483 1562.9 1480.2C1564.5 1477.4 1567 1474.6 1569 1471.8C1571 1469 1573.5 1466.3 1575 1463.5C1576.3 1461 1577.8 1458.4 1578.2 1455.9C1578.8 1452.1 1579.3 1448.3 1579.3 1444.5Z" fill="#878cfd" stroke="#000" stroke-width="2.45" stroke-linejoin="bevel"/>
<line x1="1579.3" y1="1482.5" x2="1579.3" y2="1535" stroke="#000" stroke-width="2.3"/>
<line x1="1579.3" y1="1492.4" x2="1579.3" y2="1535" stroke="#000" stroke-width="9.2"/>
<circle cx="1579.3" cy="1515.5" r="5.2" fill="#fff"/>
<path d="M1692.8 1407.2C1692.8 1411.8 1693.3 1416.3 1693.9 1420.9C1694.3 1423.7 1695.9 1426.4 1697.2 1429.2C1698.6 1432.3 1700.5 1435.3 1702.2 1438.4C1703.9 1441.4 1706.1 1444.5 1707.6 1447.5C1709.1 1450.5 1710.7 1453.6 1711.4 1456.6C1712.1 1459.6 1712.7 1462.7 1712.9 1465.7C1713.1 1468.5 1713.1 1471.3 1713.3 1474.1C1713.5 1476.9 1714.5 1479.7 1715.2 1482.5C1716.1 1485.8 1717.4 1489.1 1718.2 1492.4C1718.9 1495.4 1720 1498.5 1720 1501.5C1720 1503 1720 1504.5 1720 1506C1720 1509.1 1718.6 1512.1 1717.4 1515.2C1716.2 1518.2 1713.5 1521.3 1711.4 1524.3C1709.3 1527.3 1706.7 1530.4 1704.5 1533.4C1702.4 1536.2 1700.1 1539 1698.4 1541.8C1696.7 1544.6 1694.6 1547.4 1694.2 1550.2C1693.3 1555.8 1692.8 1561.3 1692.8 1566.9C1692.8 1561.3 1692.3 1555.8 1691.4 1550.2C1691 1547.4 1688.9 1544.6 1687.2 1541.8C1685.5 1539 1683.2 1536.2 1681.1 1533.4C1678.9 1530.4 1676.3 1527.3 1674.2 1524.3C1672.1 1521.3 1669.4 1518.2 1668.2 1515.2C1667 1512.1 1665.6 1509.1 1665.6 1506C1665.6 1504.5 1665.6 1503 1665.6 1501.5C1665.6 1498.5 1666.7 1495.4 1667.4 1492.4C1668.2 1489.1 1669.5 1485.8 1670.4 1482.5C1671.1 1479.7 1672.1 1476.9 1672.3 1474.1C1672.5 1471.3 1672.5 1468.5 1672.7 1465.7C1672.9 1462.7 1673.5 1459.6 1674.2 1456.6C1674.9 1453.6 1676.5 1450.5 1678 1447.5C1679.5 1444.5 1681.7 1441.4 1683.4 1438.4C1685.1 1435.3 1687 1432.3 1688.4 1429.2C1689.7 1426.4 1691.3 1423.7 1691.7 1420.9C1692.3 1416.3 1692.8 1411.8 1692.8 1407.2Z" fill="#878cfd" stroke="#000" stroke-width="2.45" stroke-linejoin="bevel"/>
<line x1="1692.8" y1="1451.3" x2="1692.8" y2="1520.5" stroke="#000" stroke-width="2.3"/>
<line x1="1692.8" y1="1465" x2="1692.8" y2="1512.9" stroke="#000" stroke-width="9.2"/>
<circle cx="1692.8" cy="1494.2" r="5.2" fill="#fff"/>
<path d="M1805.8 1410.2C1805.8 1413.5 1806.4 1416.8 1807 1420.1C1807.5 1422.6 1809 1425.2 1810.1 1427.7C1811.2 1430.2 1812.4 1432.8 1813.4 1435.3C1814.3 1437.6 1814.6 1439.9 1815.7 1442.2C1816.6 1444.2 1818.5 1446.2 1820.3 1448.2C1822.4 1450.5 1825.7 1452.8 1827.9 1455.1C1829.6 1456.9 1831.8 1458.6 1832.4 1460.4C1832.6 1461.2 1832.9 1461.9 1832.9 1462.7C1832.9 1464.2 1831.3 1465.8 1830.1 1467.3C1828.3 1469.6 1824.6 1471.8 1821.8 1474.1C1819 1476.4 1815.9 1478.6 1813.4 1480.9C1811.4 1482.7 1808.9 1484.5 1808.1 1486.3C1806.8 1489.3 1805.8 1492.4 1805.8 1495.4C1805.8 1492.4 1804.8 1489.3 1803.5 1486.3C1802.7 1484.5 1800.2 1482.7 1798.2 1480.9C1795.7 1478.6 1792.6 1476.4 1789.8 1474.1C1787 1471.8 1783.3 1469.6 1781.5 1467.3C1780.3 1465.8 1778.7 1464.2 1778.7 1462.7C1778.7 1461.9 1779 1461.2 1779.2 1460.4C1779.8 1458.6 1782 1456.9 1783.7 1455.1C1785.9 1452.8 1789.2 1450.5 1791.3 1448.2C1793.1 1446.2 1795 1444.2 1795.9 1442.2C1797 1439.9 1797.3 1437.6 1798.2 1435.3C1799.2 1432.8 1800.4 1430.2 1801.5 1427.7C1802.6 1425.2 1804.1 1422.6 1804.6 1420.1C1805.2 1416.8 1805.8 1413.5 1805.8 1410.2Z" fill="#878cfd" stroke="#000" stroke-width="2.45" stroke-linejoin="bevel"/>
<line x1="1805.8" y1="1431.5" x2="1805.8" y2="1473.3" stroke="#000" stroke-width="2.3"/>
<line x1="1805.8" y1="1452" x2="1805.8" y2="1464.2" stroke="#000" stroke-width="9.2"/>
<circle cx="1805.8" cy="1459.6" r="5.2" fill="#fff"/>
<rect x="163.4" y="1040" width="1698.9" height="764.1" fill="none" stroke="#1c1c1c" stroke-width="3.3"/>
<line x1="147.9" y1="1040" x2="163.4" y2="1040" stroke="#1c1c1c" stroke-width="2.7"/>
<text transform="translate(138.1 1053.8) scale(1 1.045)" font-size="47.5" text-anchor="end">1.0</text>
<line x1="147.9" y1="1135.5" x2="163.4" y2="1135.5" stroke="#1c1c1c" stroke-width="2.7"/>
<text transform="translate(138.1 1149.3) scale(1 1.045)" font-size="47.5" text-anchor="end">0.9</text>
<line x1="147.9" y1="1231" x2="163.4" y2="1231" stroke="#1c1c1c" stroke-width="2.7"/>
<text transform="translate(138.1 1244.8) scale(1 1.045)" font-size="47.5" text-anchor="end">0.8</text>
<line x1="147.9" y1="1326.5" x2="163.4" y2="1326.5" stroke="#1c1c1c" stroke-width="2.7"/>
<text transform="translate(138.1 1340.3) scale(1 1.045)" font-size="47.5" text-anchor="end">0.7</text>
<line x1="147.9" y1="1422" x2="163.4" y2="1422" stroke="#1c1c1c" stroke-width="2.7"/>
<text transform="translate(138.1 1435.8) scale(1 1.045)" font-size="47.5" text-anchor="end">0.6</text>
<line x1="147.9" y1="1517.6" x2="163.4" y2="1517.6" stroke="#1c1c1c" stroke-width="2.7"/>
<text transform="translate(138.1 1531.4) scale(1 1.045)" font-size="47.5" text-anchor="end">0.5</text>
<line x1="147.9" y1="1613.1" x2="163.4" y2="1613.1" stroke="#1c1c1c" stroke-width="2.7"/>
<text transform="translate(138.1 1626.9) scale(1 1.045)" font-size="47.5" text-anchor="end">0.4</text>
<line x1="147.9" y1="1708.6" x2="163.4" y2="1708.6" stroke="#1c1c1c" stroke-width="2.7"/>
<text transform="translate(138.1 1722.4) scale(1 1.045)" font-size="47.5" text-anchor="end">0.3</text>
<line x1="147.9" y1="1804.1" x2="163.4" y2="1804.1" stroke="#1c1c1c" stroke-width="2.7"/>
<text transform="translate(138.1 1817.9) scale(1 1.045)" font-size="47.5" text-anchor="end">0.2</text>
<line x1="220" y1="1804.1" x2="220" y2="1818.6" stroke="#1c1c1c" stroke-width="2.7"/>
<text transform="translate(220 1866.2) scale(1 1.05)" font-size="46.8" text-anchor="middle">PT</text>
<line x1="333.3" y1="1804.1" x2="333.3" y2="1818.6" stroke="#1c1c1c" stroke-width="2.7"/>
<text transform="translate(333.3 1866.2) scale(1 1.05)" font-size="46.8" text-anchor="middle">RF</text>
<line x1="446.5" y1="1804.1" x2="446.5" y2="1818.6" stroke="#1c1c1c" stroke-width="2.7"/>
<text transform="translate(446.5 1866.2) scale(1 1.05)" font-size="46.8" text-anchor="middle">SVM</text>
<line x1="559.8" y1="1804.1" x2="559.8" y2="1818.6" stroke="#1c1c1c" stroke-width="2.7"/>
<text transform="translate(559.8 1866.2) scale(1 1.05)" font-size="46.8" text-anchor="middle">GB</text>
<line x1="673.1" y1="1804.1" x2="673.1" y2="1818.6" stroke="#1c1c1c" stroke-width="2.7"/>
<text transform="translate(673.1 1866.2) scale(1 1.05)" font-size="46.8" text-anchor="middle">Ridge</text>
<line x1="786.3" y1="1804.1" x2="786.3" y2="1818.6" stroke="#1c1c1c" stroke-width="2.7"/>
<text transform="translate(786.3 1866.2) scale(1 1.05)" font-size="46.8" text-anchor="middle">PT</text>
<line x1="899.6" y1="1804.1" x2="899.6" y2="1818.6" stroke="#1c1c1c" stroke-width="2.7"/>
<text transform="translate(899.6 1866.2) scale(1 1.05)" font-size="46.8" text-anchor="middle">RF</text>
<line x1="1012.8" y1="1804.1" x2="1012.8" y2="1818.6" stroke="#1c1c1c" stroke-width="2.7"/>
<text transform="translate(1012.8 1866.2) scale(1 1.05)" font-size="46.8" text-anchor="middle">SVM</text>
<line x1="1126.1" y1="1804.1" x2="1126.1" y2="1818.6" stroke="#1c1c1c" stroke-width="2.7"/>
<text transform="translate(1126.1 1866.2) scale(1 1.05)" font-size="46.8" text-anchor="middle">GB</text>
<line x1="1239.4" y1="1804.1" x2="1239.4" y2="1818.6" stroke="#1c1c1c" stroke-width="2.7"/>
<text transform="translate(1239.4 1866.2) scale(1 1.05)" font-size="46.8" text-anchor="middle">Ridge</text>
<line x1="1352.6" y1="1804.1" x2="1352.6" y2="1818.6" stroke="#1c1c1c" stroke-width="2.7"/>
<text transform="translate(1352.6 1866.2) scale(1 1.05)" font-size="46.8" text-anchor="middle">PT</text>
<line x1="1465.9" y1="1804.1" x2="1465.9" y2="1818.6" stroke="#1c1c1c" stroke-width="2.7"/>
<text transform="translate(1465.9 1866.2) scale(1 1.05)" font-size="46.8" text-anchor="middle">RF</text>
<line x1="1579.2" y1="1804.1" x2="1579.2" y2="1818.6" stroke="#1c1c1c" stroke-width="2.7"/>
<text transform="translate(1579.2 1866.2) scale(1 1.05)" font-size="46.8" text-anchor="middle">SVM</text>
<line x1="1692.4" y1="1804.1" x2="1692.4" y2="1818.6" stroke="#1c1c1c" stroke-width="2.7"/>
<text transform="translate(1692.4 1866.2) scale(1 1.05)" font-size="46.8" text-anchor="middle">GB</text>
<line x1="1805.7" y1="1804.1" x2="1805.7" y2="1818.6" stroke="#1c1c1c" stroke-width="2.7"/>
<text transform="translate(1805.7 1866.2) scale(1 1.05)" font-size="46.8" text-anchor="middle">Ridge</text>
<text transform="translate(0 1097.8) scale(1 1.015)" font-size="53.5"><tspan x="265.3">Climatic</tspan> <tspan x="470.5">Zone</tspan> <tspan x="597.5">0</tspan></text>
<text transform="translate(0 1093) scale(1 1.015)" font-size="53.5"><tspan x="862.8">Climatic</tspan> <tspan x="1068">Zone</tspan> <tspan x="1195">1</tspan></text>
<text transform="translate(0 1096.5) scale(1 1.015)" font-size="53.5"><tspan x="1404.4">Climatic</tspan> <tspan x="1609.6">Zone</tspan> <tspan x="1736.6">2</tspan></text>
<text x="1017.5" y="1917.7" font-size="46.8" text-anchor="middle">Models</text>
<text transform="translate(979 1973.8) scale(1 1.06)" font-size="46.8" text-anchor="middle">(b)</text>
<text transform="translate(59.3 1496) rotate(-90) scale(1 1.03)" font-size="47.5" textLength="321" lengthAdjust="spacing">RMSE(mm/day)</text>
</g>
<g id="panel-c">
<rect x="168.4" y="2074" width="572.1" height="761.3" fill="#fdc0c0"/>
<rect x="740.5" y="2074" width="572.9" height="761.3" fill="#f8f4c0"/>
<rect x="1313.4" y="2074" width="548.9" height="761.3" fill="#bbc1fd"/>
<line x1="740.5" y1="2074" x2="740.5" y2="2835.3" stroke="#000" stroke-opacity="0.5" stroke-width="2.1"/>
<line x1="1313.4" y1="2074" x2="1313.4" y2="2835.3" stroke="#000" stroke-opacity="0.5" stroke-width="2.1"/>
<path d="M224.9 2561C224.9 2562.5 225.3 2564 225.8 2565.5C226.2 2566.5 227.6 2567.5 229 2568.6C230.4 2569.6 232.8 2570.7 235.4 2571.8C237.9 2572.8 241.5 2573.9 244.9 2575C248.1 2576 251.9 2577 255.2 2578.1C258.5 2579.1 262.4 2580.2 264.7 2581.3C266.9 2582.3 269.1 2583.4 269.9 2584.5C270.4 2585.2 270.9 2585.9 270.9 2586.7C270.9 2587.6 269.9 2588.5 269.1 2589.5C267.9 2590.8 265.3 2592 263.2 2593.3C260.7 2594.8 257.8 2596.2 255.2 2597.7C252.5 2599.2 250 2600.7 247.3 2602.2C244.9 2603.5 242.2 2604.7 240.1 2606C238.3 2607 236.4 2608.1 235.4 2609.1C234.3 2610.2 233.4 2611.2 233 2612.3C232.4 2613.8 232.3 2615.3 231.8 2616.8C231.3 2618.2 230.5 2619.7 229.8 2621.2C229 2622.7 228.1 2624.2 227.4 2625.6C226.8 2626.9 226 2628.1 225.7 2629.4C225.3 2631.1 224.9 2632.8 224.9 2634.5C224.9 2632.8 224.5 2631.1 224.1 2629.4C223.8 2628.1 223 2626.9 222.4 2625.6C221.6 2624.2 220.7 2622.7 220 2621.2C219.2 2619.7 218.5 2618.2 218 2616.8C217.5 2615.3 217.4 2613.8 216.8 2612.3C216.3 2611.2 215.4 2610.2 214.4 2609.1C213.3 2608.1 211.4 2607 209.7 2606C207.5 2604.7 204.8 2603.5 202.5 2602.2C199.7 2600.7 197.2 2599.2 194.6 2597.7C191.9 2596.2 189 2594.8 186.6 2593.3C184.4 2592 181.8 2590.8 180.7 2589.5C179.8 2588.5 178.9 2587.6 178.9 2586.7C178.9 2585.9 179.4 2585.2 179.9 2584.5C180.6 2583.4 182.8 2582.3 185.1 2581.3C187.3 2580.2 191.2 2579.1 194.6 2578.1C197.8 2577 201.6 2576 204.9 2575C208.2 2573.9 211.8 2572.8 214.4 2571.8C216.9 2570.7 219.3 2569.6 220.8 2568.6C222.2 2567.5 223.5 2566.5 223.9 2565.5C224.5 2564 224.9 2562.5 224.9 2561Z" fill="#ff8a8a" stroke="#000" stroke-width="2.45" stroke-linejoin="bevel"/>
<line x1="224.9" y1="2577.4" x2="224.9" y2="2618" stroke="#000" stroke-width="2.3"/>
<line x1="224.9" y1="2580.9" x2="224.9" y2="2601.5" stroke="#000" stroke-width="7.7"/>
<circle cx="224.9" cy="2590.1" r="4.9" fill="#fff"/>
<path d="M337.8 2630.6C337.8 2632.4 338.2 2634.2 338.6 2636C338.9 2637.5 339.7 2638.9 340.6 2640.4C341.5 2641.9 342.9 2643.4 344.5 2644.9C346.1 2646.3 348.6 2647.8 350.9 2649.3C353.3 2650.8 356.3 2652.3 358.8 2653.7C361.3 2655.2 364.1 2656.7 366 2658.2C367.9 2659.7 369.8 2661.1 370.7 2662.6C371.6 2664.1 372.7 2665.6 372.7 2667.1C372.7 2668.5 372.3 2670 372.3 2671.5C372.3 2673 373.2 2674.4 373.9 2675.9C374.7 2677.6 376.2 2679.3 377.5 2681C378.8 2682.7 380.6 2684.4 381.5 2686.1C382.4 2687.8 383.6 2689.4 383.6 2691.1C383.6 2692 383.6 2692.8 383.6 2693.7C383.6 2694.9 382.2 2696.2 381.1 2697.5C379.6 2699.2 376.6 2700.8 373.9 2702.5C371.1 2704.2 367.6 2705.9 364.4 2707.6C361.2 2709.3 357.8 2711 354.9 2712.7C352 2714.4 349.2 2716.1 346.9 2717.8C344.9 2719.2 343 2720.7 341.8 2722.2C340.6 2723.6 339.3 2725.1 339 2726.6C338.2 2730.2 337.8 2733.8 337.8 2737.4C337.8 2733.8 337.3 2730.2 336.6 2726.6C336.3 2725.1 335 2723.6 333.8 2722.2C332.6 2720.7 330.6 2719.2 328.7 2717.8C326.4 2716.1 323.6 2714.4 320.7 2712.7C317.8 2711 314.3 2709.3 311.2 2707.6C308 2705.9 304.4 2704.2 301.7 2702.5C299 2700.8 296 2699.2 294.5 2697.5C293.4 2696.2 292 2694.9 292 2693.7C292 2692.8 292 2692 292 2691.1C292 2689.4 293.2 2687.8 294.1 2686.1C295 2684.4 296.8 2682.7 298.1 2681C299.3 2679.3 300.9 2677.6 301.7 2675.9C302.4 2674.4 303.3 2673 303.3 2671.5C303.3 2670 302.9 2668.5 302.9 2667.1C302.9 2665.6 303.9 2664.1 304.9 2662.6C305.8 2661.1 307.7 2659.7 309.6 2658.2C311.5 2656.7 314.3 2655.2 316.8 2653.7C319.3 2652.3 322.3 2650.8 324.7 2649.3C327 2647.8 329.5 2646.3 331.1 2644.9C332.7 2643.4 334.1 2641.9 335 2640.4C335.9 2638.9 336.7 2637.5 337 2636C337.4 2634.2 337.8 2632.4 337.8 2630.6Z" fill="#ff8a8a" stroke="#000" stroke-width="2.45" stroke-linejoin="bevel"/>
<line x1="337.8" y1="2656.3" x2="337.8" y2="2712.7" stroke="#000" stroke-width="2.3"/>
<line x1="337.8" y1="2665.2" x2="337.8" y2="2697.8" stroke="#000" stroke-width="7.7"/>
<circle cx="337.8" cy="2685.4" r="4.9" fill="#fff"/>
<path d="M450.7 2622.3C450.7 2624 451.1 2625.7 451.5 2627.4C451.9 2628.9 452.8 2630.3 453.9 2631.8C455.1 2633.3 457.7 2634.8 460.2 2636.3C462.7 2637.8 466.3 2639.2 469.7 2640.7C473.1 2642.2 477.5 2643.7 480.9 2645.1C484.4 2646.6 488 2648.1 490.4 2649.6C492.5 2650.8 494.8 2652.1 495.5 2653.3C496.1 2654.4 496.7 2655.5 496.7 2656.5C496.7 2657.8 495.8 2659.1 495.1 2660.4C494.3 2661.8 492.7 2663.3 491.6 2664.8C490.5 2666.3 489 2667.7 488.4 2669.2C488 2670.3 487.6 2671.3 487.6 2672.3C487.6 2673.6 488.5 2674.9 489.2 2676.2C489.9 2677.5 491.2 2678.7 492 2680C492.8 2681.3 493.9 2682.5 494 2683.8C494.1 2684.6 494.2 2685.5 494.2 2686.3C494.2 2687.4 493 2688.4 492 2689.5C490.8 2690.8 488 2692 485.6 2693.3C482.8 2694.7 479.3 2696.2 476.1 2697.7C473 2699.2 469.5 2700.7 466.6 2702.1C463.7 2703.6 460.7 2705.1 458.6 2706.6C456.6 2708.1 454.6 2709.5 453.5 2711C452.5 2712.3 451.6 2713.5 451.3 2714.8C451 2716.5 450.7 2718.2 450.7 2719.9C450.7 2718.2 450.5 2716.5 450.1 2714.8C449.9 2713.5 448.9 2712.3 447.9 2711C446.8 2709.5 444.9 2708.1 442.8 2706.6C440.7 2705.1 437.7 2703.6 434.8 2702.1C431.9 2700.7 428.5 2699.2 425.3 2697.7C422.1 2696.2 418.6 2694.7 415.8 2693.3C413.5 2692 410.6 2690.8 409.4 2689.5C408.4 2688.4 407.2 2687.4 407.2 2686.3C407.2 2685.5 407.3 2684.6 407.4 2683.8C407.6 2682.5 408.6 2681.3 409.4 2680C410.2 2678.7 411.5 2677.5 412.2 2676.2C412.9 2674.9 413.8 2673.6 413.8 2672.3C413.8 2671.3 413.4 2670.3 413 2669.2C412.5 2667.7 410.9 2666.3 409.8 2664.8C408.7 2663.3 407.1 2661.8 406.3 2660.4C405.6 2659.1 404.7 2657.8 404.7 2656.5C404.7 2655.5 405.3 2654.4 405.9 2653.3C406.6 2652.1 409 2650.8 411 2649.6C413.5 2648.1 417.1 2646.6 420.5 2645.1C423.9 2643.7 428.3 2642.2 431.7 2640.7C435.2 2639.2 438.7 2637.8 441.2 2636.3C443.7 2634.8 446.3 2633.3 447.5 2631.8C448.7 2630.3 449.6 2628.9 449.9 2627.4C450.3 2625.7 450.7 2624 450.7 2622.3Z" fill="#ff8a8a" stroke="#000" stroke-width="2.45" stroke-linejoin="bevel"/>
<line x1="450.7" y1="2648.6" x2="450.7" y2="2693.9" stroke="#000" stroke-width="2.3"/>
<line x1="450.7" y1="2653.3" x2="450.7" y2="2687.6" stroke="#000" stroke-width="7.7"/>
<circle cx="450.7" cy="2668.6" r="4.9" fill="#fff"/>
<path d="M563.6 2612.2C563.6 2614.1 564 2616.1 564.4 2618C564.8 2619.7 565.6 2621.3 566.5 2623C567.4 2624.5 569.2 2626 570.9 2627.5C572.7 2628.9 575 2630.4 577.3 2631.9C579.7 2633.4 582.9 2634.9 585.2 2636.3C587.6 2637.8 589.9 2639.3 591.5 2640.7C593.2 2642.2 594.9 2643.7 595.5 2645.2C596.1 2646.5 596.7 2647.7 596.7 2649C596.7 2650.4 596.1 2651.9 595.5 2653.4C595 2654.9 593.4 2656.4 593.1 2657.9C592.9 2658.9 592.7 2660 592.7 2661C592.7 2662.3 594.4 2663.6 595.5 2664.8C596.9 2666.3 599.3 2667.8 601.1 2669.2C603 2670.7 605.3 2672.2 606.6 2673.7C608 2675.2 609.4 2676.7 609.8 2678.2C610 2678.8 610.2 2679.4 610.2 2680C610.2 2681.1 609.2 2682.1 608.2 2683.2C606.9 2684.7 603.9 2686.2 601.1 2687.7C598.4 2689.1 594.7 2690.6 591.5 2692.1C588.3 2693.6 584.9 2695 582 2696.5C579.2 2698 576.3 2699.5 574.1 2700.9C571.9 2702.4 569.9 2703.9 568.5 2705.4C567.2 2706.9 565.8 2708.3 565.3 2709.8C564.3 2713.2 563.6 2716.5 563.6 2719.9C563.6 2716.5 562.9 2713.2 561.9 2709.8C561.5 2708.3 560.1 2706.9 558.7 2705.4C557.4 2703.9 555.3 2702.4 553.1 2700.9C551 2699.5 548.1 2698 545.2 2696.5C542.3 2695 539 2693.6 535.7 2692.1C532.6 2690.6 528.8 2689.1 526.1 2687.7C523.4 2686.2 520.4 2684.7 519 2683.2C518.1 2682.1 517 2681.1 517 2680C517 2679.4 517.3 2678.8 517.4 2678.2C517.9 2676.7 519.3 2675.2 520.6 2673.7C522 2672.2 524.3 2670.7 526.1 2669.2C528 2667.8 530.4 2666.3 531.7 2664.8C532.9 2663.6 534.5 2662.3 534.5 2661C534.5 2660 534.4 2658.9 534.1 2657.9C533.8 2656.4 532.3 2654.9 531.7 2653.4C531.2 2651.9 530.5 2650.4 530.5 2649C530.5 2647.7 531.2 2646.5 531.7 2645.2C532.4 2643.7 534.1 2642.2 535.7 2640.7C537.4 2639.3 539.7 2637.8 542 2636.3C544.4 2634.9 547.6 2633.4 549.9 2631.9C552.3 2630.4 554.6 2628.9 556.3 2627.5C558.1 2626 559.9 2624.5 560.7 2623C561.7 2621.3 562.5 2619.7 562.8 2618C563.2 2616.1 563.6 2614.1 563.6 2612.2Z" fill="#ff8a8a" stroke="#000" stroke-width="2.45" stroke-linejoin="bevel"/>
<line x1="563.6" y1="2639.5" x2="563.6" y2="2691.4" stroke="#000" stroke-width="2.3"/>
<line x1="563.6" y1="2651.5" x2="563.6" y2="2682.6" stroke="#000" stroke-width="7.7"/>
<circle cx="563.6" cy="2673.7" r="4.9" fill="#fff"/>
<path d="M681.1 2548.8C684.5 2551.2 688.2 2553.6 692.3 2556C697.4 2559 704.7 2562 709.2 2565C713.7 2568 718.6 2571 720.4 2574C721.5 2575.9 722.7 2577.7 722.7 2579.6C722.7 2581.5 720 2583.3 718.2 2585.2C715.2 2588.2 709.5 2591.2 705.8 2594.2C702.1 2597.2 698.6 2600.2 695.7 2603.2C692.7 2606.2 690.6 2609.2 687.8 2612.2C685.7 2614.4 682.6 2616.7 681.1 2618.9C680 2620.4 679.1 2621.9 678.6 2623.4C677.6 2626 676.7 2628.7 676.6 2631.3C676.4 2628.7 675.5 2626 674.6 2623.4C674 2621.9 673.1 2620.4 672.1 2618.9C670.5 2616.7 667.5 2614.4 665.4 2612.2C662.6 2609.2 660.4 2606.2 657.5 2603.2C654.5 2600.2 651.1 2597.2 647.4 2594.2C643.7 2591.2 638 2588.2 635 2585.2C633.1 2583.3 630.5 2581.5 630.5 2579.6C630.5 2577.7 631.7 2575.9 632.8 2574C634.6 2571 639.5 2568 644 2565C648.5 2562 655.8 2559 660.9 2556C664.9 2553.6 668.7 2551.2 672.1 2548.8Z" fill="#ff8a8a" stroke="#000" stroke-width="2.45" stroke-linejoin="bevel"/>
<line x1="676.6" y1="2562.7" x2="676.6" y2="2610" stroke="#000" stroke-width="2.3"/>
<line x1="676.6" y1="2580.7" x2="676.6" y2="2593" stroke="#000" stroke-width="7.7"/>
<circle cx="676.6" cy="2580.7" r="4.9" fill="#fff"/>
<path d="M789.5 2618.5C789.5 2619.8 789.9 2621.2 790.4 2622.5C790.8 2623.5 792.1 2624.4 793.6 2625.4C795.2 2626.4 799.1 2627.4 802.3 2628.4C805.4 2629.3 809.5 2630.3 812.5 2631.2C814.9 2632 818 2632.8 819 2633.5C819.5 2633.9 820.1 2634.3 820.1 2634.7C820.1 2635.5 818.2 2636.3 816.9 2637.1C814.9 2638.2 811.6 2639.4 808.9 2640.6C806.3 2641.7 803 2642.9 800.9 2644C799.1 2645 797.1 2646 796.5 2647C795.9 2647.9 795.3 2648.9 795.3 2649.8C795.3 2650.8 795.8 2651.7 795.8 2652.7C795.8 2653.7 794.9 2654.7 794.3 2655.7C793.6 2656.8 792.3 2657.9 791.7 2659.1C790.7 2660.8 789.9 2662.6 789.5 2664.4C789.1 2662.6 788.3 2660.8 787.3 2659.1C786.7 2657.9 785.4 2656.8 784.7 2655.7C784.1 2654.7 783.2 2653.7 783.2 2652.7C783.2 2651.7 783.7 2650.8 783.7 2649.8C783.7 2648.9 783.1 2647.9 782.5 2647C781.9 2646 779.9 2645 778.1 2644C776 2642.9 772.7 2641.7 770.1 2640.6C767.4 2639.4 764.1 2638.2 762.1 2637.1C760.8 2636.3 758.9 2635.5 758.9 2634.7C758.9 2634.3 759.5 2633.9 760 2633.5C761 2632.8 764.1 2632 766.5 2631.2C769.5 2630.3 773.6 2629.3 776.7 2628.4C779.9 2627.4 783.8 2626.4 785.4 2625.4C786.9 2624.4 788.2 2623.5 788.6 2622.5C789.1 2621.2 789.5 2619.8 789.5 2618.5Z" fill="#faf68a" stroke="#000" stroke-width="2.45" stroke-linejoin="bevel"/>
<line x1="789.5" y1="2631.6" x2="789.5" y2="2643.4" stroke="#000" stroke-width="2.3"/>
<line x1="789.5" y1="2632.3" x2="789.5" y2="2642.9" stroke="#000" stroke-width="7"/>
<circle cx="789.5" cy="2635" r="4.8" fill="#fff"/>
<path d="M902.4 2659C903.1 2663.6 904 2668.3 904.9 2672.9C905.5 2675.9 906 2678.9 906.9 2681.9C907.8 2684.9 909.9 2687.9 910.7 2690.9C911.5 2693.9 911.7 2696.9 912.5 2699.9C913.4 2702.9 914.9 2705.9 917 2708.9C919.1 2711.9 925 2714.9 927.1 2717.9C929.8 2721.6 932.8 2725.4 932.8 2729.1C932.8 2732.1 931.1 2735.1 929.4 2738.1C927.8 2741.1 923.6 2744.1 920.4 2747.1C917.3 2750.1 912.4 2753.1 910.3 2756.1C909.3 2757.6 908.4 2759.1 907.9 2760.6L896.9 2760.6C896.4 2759.1 895.6 2757.6 894.5 2756.1C892.4 2753.1 887.6 2750.1 884.4 2747.1C881.3 2744.1 877.1 2741.1 875.4 2738.1C873.8 2735.1 872 2732.1 872 2729.1C872 2725.4 875.1 2721.6 877.7 2717.9C879.9 2714.9 885.7 2711.9 887.8 2708.9C889.9 2705.9 891.5 2702.9 892.3 2699.9C893.2 2696.9 893.3 2693.9 894.1 2690.9C894.9 2687.9 897 2684.9 897.9 2681.9C898.8 2678.9 899.3 2675.9 899.9 2672.9C900.9 2668.3 901.7 2663.6 902.4 2659Z" fill="#faf68a" stroke="#000" stroke-width="2.45" stroke-linejoin="bevel"/>
<line x1="902.4" y1="2725" x2="902.4" y2="2746" stroke="#000" stroke-width="2.3"/>
<line x1="902.4" y1="2723" x2="902.4" y2="2729" stroke="#000" stroke-width="7"/>
<rect x="898.1" y="2719.5" width="8.6" height="6.5" fill="#fff"/>
<circle cx="902.4" cy="2725.1" r="4.8" fill="#fff"/>
<path d="M1015.3 2665C1015.3 2667.3 1015.8 2669.7 1016.3 2672C1016.7 2673.6 1018.4 2675.1 1020.1 2676.7C1021.9 2678.2 1025.6 2679.7 1028.1 2681.3C1030.7 2682.8 1033.8 2684.4 1035.4 2685.9C1037.1 2687.5 1038.8 2689 1039 2690.5C1039.2 2691.7 1039.3 2692.9 1039.3 2694.1C1039.3 2695.4 1039 2696.8 1039 2698.1C1039 2699.5 1040.5 2700.8 1041.2 2702.2C1042.1 2703.7 1043.5 2705.3 1044.1 2706.8C1044.8 2708.4 1045.6 2709.9 1045.6 2711.5C1045.6 2712.8 1045.3 2714.2 1044.8 2715.5C1044.4 2717.1 1042.3 2718.7 1040.5 2720.2C1038.6 2722 1035.3 2723.7 1032.5 2725.4C1029.7 2727.2 1026.3 2728.9 1023.7 2730.7C1021.5 2732.2 1018.8 2733.8 1017.9 2735.3C1016.5 2738 1015.3 2740.8 1015.3 2743.5C1015.3 2740.8 1014.2 2738 1012.7 2735.3C1011.9 2733.8 1009.2 2732.2 1006.9 2730.7C1004.4 2728.9 1001 2727.2 998.1 2725.4C995.4 2723.7 992.1 2722 990.1 2720.2C988.4 2718.7 986.3 2717.1 985.8 2715.5C985.4 2714.2 985 2712.8 985 2711.5C985 2709.9 985.9 2708.4 986.5 2706.8C987.2 2705.3 988.6 2703.7 989.4 2702.2C990.2 2700.8 991.6 2699.5 991.6 2698.1C991.6 2696.8 991.3 2695.4 991.3 2694.1C991.3 2692.9 991.5 2691.7 991.6 2690.5C991.9 2689 993.6 2687.5 995.2 2685.9C996.9 2684.4 1000 2682.8 1002.5 2681.3C1005.1 2679.7 1008.8 2678.2 1010.5 2676.7C1012.3 2675.1 1014 2673.6 1014.3 2672C1014.9 2669.7 1015.3 2667.3 1015.3 2665Z" fill="#faf68a" stroke="#000" stroke-width="2.45" stroke-linejoin="bevel"/>
<line x1="1015.3" y1="2687" x2="1015.3" y2="2721.4" stroke="#000" stroke-width="2.3"/>
<line x1="1015.3" y1="2688.5" x2="1015.3" y2="2720" stroke="#000" stroke-width="7"/>
<circle cx="1015.3" cy="2706.3" r="4.8" fill="#fff"/>
<path d="M1128.3 2615C1128.3 2617.6 1128.7 2620.1 1129.3 2622.6C1129.7 2624.6 1131.3 2626.5 1132.8 2628.4C1134.2 2630.4 1136.6 2632.3 1138.9 2634.2C1141.2 2636.1 1144.3 2638.1 1146.9 2640C1149.4 2642 1152.5 2643.9 1154.2 2645.8C1155.7 2647.6 1157.2 2649.3 1157.8 2651C1158.2 2652.4 1158.7 2653.7 1158.7 2655.1C1158.7 2656.5 1157.8 2657.8 1157.1 2659.2C1156 2661.1 1153.4 2663.1 1151.3 2665C1148.9 2667.1 1145.8 2669.3 1143.3 2671.4C1140.7 2673.5 1138.1 2675.6 1136 2677.8C1134.1 2679.7 1131.6 2681.7 1130.9 2683.6C1129.4 2687.5 1128.3 2691.4 1128.3 2695.3C1128.3 2691.4 1127.2 2687.5 1125.7 2683.6C1124.9 2681.7 1122.5 2679.7 1120.6 2677.8C1118.5 2675.6 1115.8 2673.5 1113.3 2671.4C1110.7 2669.3 1107.6 2667.1 1105.3 2665C1103.1 2663.1 1100.5 2661.1 1099.5 2659.2C1098.7 2657.8 1097.9 2656.5 1097.9 2655.1C1097.9 2653.7 1098.3 2652.4 1098.8 2651C1099.3 2649.3 1100.8 2647.6 1102.4 2645.8C1104.1 2643.9 1107.1 2642 1109.7 2640C1112.2 2638.1 1115.4 2636.1 1117.7 2634.2C1120 2632.3 1122.3 2630.4 1123.8 2628.4C1125.3 2626.5 1126.8 2624.6 1127.3 2622.6C1127.8 2620.1 1128.3 2617.6 1128.3 2615Z" fill="#faf68a" stroke="#000" stroke-width="2.45" stroke-linejoin="bevel"/>
<line x1="1128.3" y1="2633.6" x2="1128.3" y2="2674.9" stroke="#000" stroke-width="2.3"/>
<line x1="1128.3" y1="2647" x2="1128.3" y2="2660.4" stroke="#000" stroke-width="7"/>
<circle cx="1128.3" cy="2656.9" r="4.8" fill="#fff"/>
<path d="M1241.2 2578.4C1241.2 2581.1 1241.7 2583.9 1242.3 2586.6C1242.8 2588.7 1244.8 2590.8 1246.8 2592.9C1248.8 2595 1253.2 2597.1 1256.3 2599.2C1259.5 2601.3 1263.5 2603.5 1265.8 2605.6C1267.8 2607.5 1269.9 2609.4 1270.6 2611.3C1271 2612.3 1271.4 2613.4 1271.4 2614.5C1271.4 2616.4 1270.2 2618.2 1269 2620.1C1267.7 2622.3 1263.9 2624.4 1261 2626.5C1258.1 2628.6 1253.9 2630.7 1251.5 2632.8C1249.6 2634.5 1247.3 2636.2 1246.8 2637.9C1246.3 2639.6 1246 2641.3 1246 2643C1246 2645.1 1247.1 2647.2 1247.1 2649.3C1247.1 2651.4 1246.5 2653.5 1246 2655.7C1245.5 2657.8 1244.2 2659.9 1243.6 2662C1242.5 2665.8 1241.6 2669.6 1241.2 2673.4C1240.8 2669.6 1239.9 2665.8 1238.8 2662C1238.2 2659.9 1236.9 2657.8 1236.4 2655.7C1235.9 2653.5 1235.3 2651.4 1235.3 2649.3C1235.3 2647.2 1236.4 2645.1 1236.4 2643C1236.4 2641.3 1236.1 2639.6 1235.6 2637.9C1235.1 2636.2 1232.8 2634.5 1230.9 2632.8C1228.5 2630.7 1224.3 2628.6 1221.4 2626.5C1218.5 2624.4 1214.7 2622.3 1213.4 2620.1C1212.2 2618.2 1211 2616.4 1211 2614.5C1211 2613.4 1211.4 2612.3 1211.8 2611.3C1212.5 2609.4 1214.6 2607.5 1216.6 2605.6C1218.9 2603.5 1222.9 2601.3 1226.1 2599.2C1229.3 2597.1 1233.6 2595 1235.6 2592.9C1237.6 2590.8 1239.6 2588.7 1240.1 2586.6C1240.7 2583.9 1241.2 2581.1 1241.2 2578.4Z" fill="#faf68a" stroke="#000" stroke-width="2.45" stroke-linejoin="bevel"/>
<line x1="1241.2" y1="2601.6" x2="1241.2" y2="2626" stroke="#000" stroke-width="2.3"/>
<line x1="1241.2" y1="2603.2" x2="1241.2" y2="2624.4" stroke="#000" stroke-width="7"/>
<circle cx="1241.2" cy="2613.8" r="4.8" fill="#fff"/>
<path d="M1354.1 2549.2C1355 2550.8 1355.9 2552.4 1356.6 2554C1357.2 2555.2 1357.4 2556.3 1358.1 2557.5C1359.3 2559.4 1362.8 2561.2 1365.2 2563.1C1368 2565.2 1371.4 2567.3 1373.9 2569.4C1376 2571.1 1378.4 2572.8 1379.5 2574.6C1380.2 2575.6 1381.1 2576.7 1381.1 2577.7C1381.1 2579.2 1379.7 2580.7 1378.7 2582.1C1377.5 2584.1 1375 2586 1373.9 2587.9C1372.9 2589.8 1371.9 2591.7 1371.6 2593.6C1371.4 2595.3 1371.4 2597 1371.2 2598.7C1371 2600.3 1370.6 2602 1370 2603.7C1369.3 2605.8 1367.6 2607.9 1366 2610C1364.5 2612.1 1362.3 2614.3 1360.4 2616.4C1359 2618.1 1356.6 2619.7 1356 2621.4C1354.9 2624.8 1354.1 2628.2 1354.1 2631.6C1354.1 2628.2 1353.4 2624.8 1352.2 2621.4C1351.7 2619.7 1349.3 2618.1 1347.8 2616.4C1346 2614.3 1343.8 2612.1 1342.2 2610C1340.7 2607.9 1338.9 2605.8 1338.2 2603.7C1337.7 2602 1337.2 2600.3 1337 2598.7C1336.8 2597 1336.9 2595.3 1336.6 2593.6C1336.4 2591.7 1335.4 2589.8 1334.3 2587.9C1333.3 2586 1330.8 2584.1 1329.5 2582.1C1328.6 2580.7 1327.1 2579.2 1327.1 2577.7C1327.1 2576.7 1328 2575.6 1328.7 2574.6C1329.9 2572.8 1332.3 2571.1 1334.3 2569.4C1336.9 2567.3 1340.3 2565.2 1343 2563.1C1345.5 2561.2 1349 2559.4 1350.1 2557.5C1350.8 2556.3 1351.1 2555.2 1351.6 2554C1352.4 2552.4 1353.2 2550.8 1354.1 2549.2Z" fill="#878cfd" stroke="#000" stroke-width="2.45" stroke-linejoin="bevel"/>
<line x1="1354.1" y1="2570.1" x2="1354.1" y2="2607.5" stroke="#000" stroke-width="2.3"/>
<line x1="1354.1" y1="2574.6" x2="1354.1" y2="2599.2" stroke="#000" stroke-width="8.1"/>
<circle cx="1354.1" cy="2582.1" r="4.9" fill="#fff"/>
<path d="M1467.1 2599.1C1467.1 2602.4 1467.5 2605.6 1468.2 2608.9C1468.6 2610.9 1470.3 2612.9 1472.1 2614.9C1473.8 2617 1477 2619 1479.7 2621C1482.3 2623 1485.9 2625.1 1488.1 2627.1C1490 2628.9 1492.1 2630.7 1493 2632.5C1493.5 2633.7 1494.2 2635 1494.2 2636.2C1494.2 2638 1492.9 2639.8 1491.9 2641.6C1490.5 2643.8 1487.4 2646.1 1485 2648.3C1482.5 2650.6 1479.2 2652.8 1477.4 2655C1475.7 2657 1474.1 2659.1 1473.6 2661.1C1472.9 2663.5 1472.4 2665.9 1472.4 2668.4C1472.4 2670.8 1472.6 2673.2 1472.6 2675.6C1472.6 2678.1 1472 2680.5 1471.7 2683C1471.3 2685.4 1470.6 2687.8 1470.1 2690.2C1469.5 2692.6 1468.6 2695.1 1468.3 2697.5C1467.6 2702.8 1467.1 2708 1467.1 2713.3C1467.1 2708 1466.5 2702.8 1465.9 2697.5C1465.6 2695.1 1464.6 2692.6 1464.1 2690.2C1463.5 2687.8 1462.8 2685.4 1462.5 2683C1462.1 2680.5 1461.6 2678.1 1461.6 2675.6C1461.6 2673.2 1461.8 2670.8 1461.8 2668.4C1461.8 2665.9 1461.2 2663.5 1460.6 2661.1C1460 2659.1 1458.4 2657 1456.8 2655C1455 2652.8 1451.6 2650.6 1449.2 2648.3C1446.7 2646.1 1443.6 2643.8 1442.3 2641.6C1441.2 2639.8 1440 2638 1440 2636.2C1440 2635 1440.6 2633.7 1441.2 2632.5C1442 2630.7 1444.1 2628.9 1446.1 2627.1C1448.3 2625.1 1451.8 2623 1454.5 2621C1457.1 2619 1460.3 2617 1462.1 2614.9C1463.8 2612.9 1465.5 2610.9 1466 2608.9C1466.6 2605.6 1467.1 2602.4 1467.1 2599.1Z" fill="#878cfd" stroke="#000" stroke-width="2.45" stroke-linejoin="bevel"/>
<line x1="1467.1" y1="2630.8" x2="1467.1" y2="2659.3" stroke="#000" stroke-width="2.3"/>
<line x1="1467.1" y1="2639.2" x2="1467.1" y2="2649.5" stroke="#000" stroke-width="8.1"/>
<circle cx="1467.1" cy="2637.4" r="4.9" fill="#fff"/>
<path d="M1580 2587.6C1580 2590.7 1580.5 2593.7 1581.1 2596.7C1581.5 2598.8 1582.9 2600.8 1584.3 2602.8C1585.7 2605 1588.3 2607.2 1590.3 2609.4C1592.3 2611.7 1594.8 2613.9 1596.4 2616.1C1597.9 2618.4 1599.6 2620.6 1600.2 2622.8C1600.8 2625.1 1601 2627.3 1601.4 2629.5C1601.8 2631.7 1602 2633.9 1602.5 2636.2C1603 2638.4 1604.1 2640.7 1604.8 2642.9C1605.4 2644.9 1606.3 2646.9 1606.6 2649C1606.8 2650.4 1607.1 2651.8 1607.1 2653.2C1607.1 2655 1606.3 2656.8 1605.6 2658.6C1604.7 2660.8 1601.8 2663.1 1599.5 2665.3C1597.1 2667.6 1593.7 2669.8 1591.1 2672C1588.7 2674 1585.9 2676.1 1584.3 2678.1C1583 2679.7 1581.5 2681.3 1581.2 2683C1580.4 2686.4 1580 2689.8 1580 2693.3C1580 2689.8 1579.5 2686.4 1578.8 2683C1578.4 2681.3 1577 2679.7 1575.7 2678.1C1574.1 2676.1 1571.3 2674 1568.9 2672C1566.2 2669.8 1562.8 2667.6 1560.5 2665.3C1558.1 2663.1 1555.3 2660.8 1554.4 2658.6C1553.6 2656.8 1552.9 2655 1552.9 2653.2C1552.9 2651.8 1553.2 2650.4 1553.4 2649C1553.7 2646.9 1554.5 2644.9 1555.2 2642.9C1555.9 2640.7 1557 2638.4 1557.5 2636.2C1558 2633.9 1558.2 2631.7 1558.6 2629.5C1559 2627.3 1559.2 2625.1 1559.8 2622.8C1560.4 2620.6 1562 2618.4 1563.6 2616.1C1565.1 2613.9 1567.7 2611.7 1569.7 2609.4C1571.7 2607.2 1574.2 2605 1575.7 2602.8C1577 2600.8 1578.5 2598.8 1578.9 2596.7C1579.5 2593.7 1580 2590.7 1580 2587.6Z" fill="#878cfd" stroke="#000" stroke-width="2.45" stroke-linejoin="bevel"/>
<line x1="1580" y1="2618" x2="1580" y2="2659.9" stroke="#000" stroke-width="2.3"/>
<line x1="1580" y1="2625.9" x2="1580" y2="2659.9" stroke="#000" stroke-width="8.1"/>
<circle cx="1580" cy="2644.3" r="4.9" fill="#fff"/>
<path d="M1692.9 2557.9C1692.9 2561.5 1693.4 2565.2 1694 2568.8C1694.4 2571 1696 2573.2 1697.3 2575.4C1698.7 2577.9 1700.6 2580.3 1702.3 2582.8C1704 2585.2 1706.2 2587.6 1707.7 2590C1709.2 2592.5 1710.8 2594.9 1711.5 2597.3C1712.2 2599.7 1712.8 2602.1 1713 2604.6C1713.2 2606.8 1713.2 2609 1713.4 2611.3C1713.6 2613.5 1714.6 2615.7 1715.3 2618C1716.2 2620.6 1717.5 2623.2 1718.3 2625.9C1719 2628.3 1720.1 2630.7 1720.1 2633.1C1720.1 2634.3 1720.1 2635.5 1720.1 2636.7C1720.1 2639.2 1718.7 2641.6 1717.5 2644.1C1716.3 2646.5 1713.6 2648.9 1711.5 2651.3C1709.4 2653.8 1706.9 2656.2 1704.6 2658.6C1702.5 2660.8 1700.2 2663.1 1698.5 2665.3C1696.9 2667.6 1694.7 2669.8 1694.3 2672C1693.4 2676.5 1692.9 2680.9 1692.9 2685.4C1692.9 2680.9 1692.4 2676.5 1691.5 2672C1691.1 2669.8 1689 2667.6 1687.3 2665.3C1685.7 2663.1 1683.3 2660.8 1681.2 2658.6C1679 2656.2 1676.4 2653.8 1674.3 2651.3C1672.2 2648.9 1669.5 2646.5 1668.3 2644.1C1667.1 2641.6 1665.7 2639.2 1665.7 2636.7C1665.7 2635.5 1665.7 2634.3 1665.7 2633.1C1665.7 2630.7 1666.8 2628.3 1667.5 2625.9C1668.3 2623.2 1669.7 2620.6 1670.5 2618C1671.2 2615.7 1672.2 2613.5 1672.4 2611.3C1672.6 2609 1672.6 2606.8 1672.8 2604.6C1673 2602.1 1673.6 2599.7 1674.3 2597.3C1675 2594.9 1676.6 2592.5 1678.1 2590C1679.6 2587.6 1681.8 2585.2 1683.5 2582.8C1685.3 2580.3 1687.1 2577.9 1688.5 2575.4C1689.8 2573.2 1691.4 2571 1691.8 2568.8C1692.5 2565.2 1692.9 2561.5 1692.9 2557.9Z" fill="#878cfd" stroke="#000" stroke-width="2.45" stroke-linejoin="bevel"/>
<line x1="1692.9" y1="2593.1" x2="1692.9" y2="2648.3" stroke="#000" stroke-width="2.3"/>
<line x1="1692.9" y1="2604" x2="1692.9" y2="2642.2" stroke="#000" stroke-width="8.1"/>
<circle cx="1692.9" cy="2627.3" r="4.9" fill="#fff"/>
<path d="M1805.8 2560.3C1805.8 2562.9 1806.4 2565.5 1807 2568.2C1807.5 2570.2 1809.1 2572.2 1810.1 2574.2C1811.2 2576.3 1812.5 2578.3 1813.4 2580.3C1814.3 2582.1 1814.7 2584 1815.7 2585.8C1816.7 2587.4 1818.5 2589 1820.3 2590.6C1822.4 2592.4 1825.7 2594.3 1827.9 2596.1C1829.6 2597.5 1831.9 2598.9 1832.4 2600.3C1832.7 2600.9 1832.9 2601.6 1832.9 2602.2C1832.9 2603.4 1831.4 2604.6 1830.1 2605.8C1828.3 2607.7 1824.6 2609.5 1821.8 2611.3C1819.1 2613.1 1815.9 2614.9 1813.4 2616.7C1811.5 2618.1 1808.9 2619.6 1808.1 2621C1806.9 2623.4 1805.8 2625.9 1805.8 2628.3C1805.8 2625.9 1804.8 2623.4 1803.5 2621C1802.8 2619.6 1800.2 2618.1 1798.2 2616.7C1795.8 2614.9 1792.6 2613.1 1789.8 2611.3C1787.1 2609.5 1783.3 2607.7 1781.5 2605.8C1780.3 2604.6 1778.7 2603.4 1778.7 2602.2C1778.7 2601.6 1779 2600.9 1779.2 2600.3C1779.8 2598.9 1782.1 2597.5 1783.7 2596.1C1785.9 2594.3 1789.3 2592.4 1791.3 2590.6C1793.1 2589 1795 2587.4 1795.9 2585.8C1797 2584 1797.4 2582.1 1798.2 2580.3C1799.2 2578.3 1800.5 2576.3 1801.5 2574.2C1802.6 2572.2 1804.2 2570.2 1804.6 2568.2C1805.3 2565.5 1805.8 2562.9 1805.8 2560.3Z" fill="#878cfd" stroke="#000" stroke-width="2.45" stroke-linejoin="bevel"/>
<line x1="1805.8" y1="2577.3" x2="1805.8" y2="2610.6" stroke="#000" stroke-width="2.3"/>
<line x1="1805.8" y1="2593.6" x2="1805.8" y2="2603.4" stroke="#000" stroke-width="8.1"/>
<circle cx="1805.8" cy="2599.7" r="4.9" fill="#fff"/>
<rect x="168.4" y="2074" width="1693.9" height="761.3" fill="none" stroke="#1c1c1c" stroke-width="3.3"/>
<line x1="152.9" y1="2074" x2="168.4" y2="2074" stroke="#1c1c1c" stroke-width="2.7"/>
<text transform="translate(143.1 2087.8) scale(1 1.045)" font-size="47.5" text-anchor="end">1.0</text>
<line x1="152.9" y1="2169.2" x2="168.4" y2="2169.2" stroke="#1c1c1c" stroke-width="2.7"/>
<text transform="translate(143.1 2183) scale(1 1.045)" font-size="47.5" text-anchor="end">0.9</text>
<line x1="152.9" y1="2264.3" x2="168.4" y2="2264.3" stroke="#1c1c1c" stroke-width="2.7"/>
<text transform="translate(143.1 2278.1) scale(1 1.045)" font-size="47.5" text-anchor="end">0.8</text>
<line x1="152.9" y1="2359.5" x2="168.4" y2="2359.5" stroke="#1c1c1c" stroke-width="2.7"/>
<text transform="translate(143.1 2373.3) scale(1 1.045)" font-size="47.5" text-anchor="end">0.7</text>
<line x1="152.9" y1="2454.7" x2="168.4" y2="2454.7" stroke="#1c1c1c" stroke-width="2.7"/>
<text transform="translate(143.1 2468.5) scale(1 1.045)" font-size="47.5" text-anchor="end">0.6</text>
<line x1="152.9" y1="2549.8" x2="168.4" y2="2549.8" stroke="#1c1c1c" stroke-width="2.7"/>
<text transform="translate(143.1 2563.6) scale(1 1.045)" font-size="47.5" text-anchor="end">0.5</text>
<line x1="152.9" y1="2645" x2="168.4" y2="2645" stroke="#1c1c1c" stroke-width="2.7"/>
<text transform="translate(143.1 2658.8) scale(1 1.045)" font-size="47.5" text-anchor="end">0.4</text>
<line x1="152.9" y1="2740.1" x2="168.4" y2="2740.1" stroke="#1c1c1c" stroke-width="2.7"/>
<text transform="translate(143.1 2753.9) scale(1 1.045)" font-size="47.5" text-anchor="end">0.3</text>
<line x1="152.9" y1="2835.3" x2="168.4" y2="2835.3" stroke="#1c1c1c" stroke-width="2.7"/>
<text transform="translate(143.1 2849.1) scale(1 1.045)" font-size="47.5" text-anchor="end">0.2</text>
<line x1="224.9" y1="2835.3" x2="224.9" y2="2849.8" stroke="#1c1c1c" stroke-width="2.7"/>
<text transform="translate(224.9 2897.8) scale(1 1.05)" font-size="46.8" text-anchor="middle">PT</text>
<line x1="337.8" y1="2835.3" x2="337.8" y2="2849.8" stroke="#1c1c1c" stroke-width="2.7"/>
<text transform="translate(337.8 2897.8) scale(1 1.05)" font-size="46.8" text-anchor="middle">RF</text>
<line x1="450.7" y1="2835.3" x2="450.7" y2="2849.8" stroke="#1c1c1c" stroke-width="2.7"/>
<text transform="translate(450.7 2897.8) scale(1 1.05)" font-size="46.8" text-anchor="middle">SVM</text>
<line x1="563.6" y1="2835.3" x2="563.6" y2="2849.8" stroke="#1c1c1c" stroke-width="2.7"/>
<text transform="translate(563.6 2897.8) scale(1 1.05)" font-size="46.8" text-anchor="middle">GB</text>
<line x1="676.6" y1="2835.3" x2="676.6" y2="2849.8" stroke="#1c1c1c" stroke-width="2.7"/>
<text transform="translate(676.6 2897.8) scale(1 1.05)" font-size="46.8" text-anchor="middle">Ridge</text>
<line x1="789.5" y1="2835.3" x2="789.5" y2="2849.8" stroke="#1c1c1c" stroke-width="2.7"/>
<text transform="translate(789.5 2897.8) scale(1 1.05)" font-size="46.8" text-anchor="middle">PT</text>
<line x1="902.4" y1="2835.3" x2="902.4" y2="2849.8" stroke="#1c1c1c" stroke-width="2.7"/>
<text transform="translate(902.4 2897.8) scale(1 1.05)" font-size="46.8" text-anchor="middle">RF</text>
<line x1="1015.3" y1="2835.3" x2="1015.3" y2="2849.8" stroke="#1c1c1c" stroke-width="2.7"/>
<text transform="translate(1015.3 2897.8) scale(1 1.05)" font-size="46.8" text-anchor="middle">SVM</text>
<line x1="1128.3" y1="2835.3" x2="1128.3" y2="2849.8" stroke="#1c1c1c" stroke-width="2.7"/>
<text transform="translate(1128.3 2897.8) scale(1 1.05)" font-size="46.8" text-anchor="middle">GB</text>
<line x1="1241.2" y1="2835.3" x2="1241.2" y2="2849.8" stroke="#1c1c1c" stroke-width="2.7"/>
<text transform="translate(1241.2 2897.8) scale(1 1.05)" font-size="46.8" text-anchor="middle">Ridge</text>
<line x1="1354.1" y1="2835.3" x2="1354.1" y2="2849.8" stroke="#1c1c1c" stroke-width="2.7"/>
<text transform="translate(1354.1 2897.8) scale(1 1.05)" font-size="46.8" text-anchor="middle">PT</text>
<line x1="1467.1" y1="2835.3" x2="1467.1" y2="2849.8" stroke="#1c1c1c" stroke-width="2.7"/>
<text transform="translate(1467.1 2897.8) scale(1 1.05)" font-size="46.8" text-anchor="middle">RF</text>
<line x1="1580" y1="2835.3" x2="1580" y2="2849.8" stroke="#1c1c1c" stroke-width="2.7"/>
<text transform="translate(1580 2897.8) scale(1 1.05)" font-size="46.8" text-anchor="middle">SVM</text>
<line x1="1692.9" y1="2835.3" x2="1692.9" y2="2849.8" stroke="#1c1c1c" stroke-width="2.7"/>
<text transform="translate(1692.9 2897.8) scale(1 1.05)" font-size="46.8" text-anchor="middle">GB</text>
<line x1="1805.8" y1="2835.3" x2="1805.8" y2="2849.8" stroke="#1c1c1c" stroke-width="2.7"/>
<text transform="translate(1805.8 2897.8) scale(1 1.05)" font-size="46.8" text-anchor="middle">Ridge</text>
<text transform="translate(0 2129) scale(1 1.015)" font-size="53.5"><tspan x="266.4">Climatic</tspan> <tspan x="471.6">Zone</tspan> <tspan x="598.6">0</tspan></text>
<text transform="translate(0 2128.8) scale(1 1.015)" font-size="53.5"><tspan x="863.6">Climatic</tspan> <tspan x="1068.8">Zone</tspan> <tspan x="1195.8">1</tspan></text>
<text transform="translate(0 2128.4) scale(1 1.015)" font-size="53.5"><tspan x="1404.4">Climatic</tspan> <tspan x="1609.6">Zone</tspan> <tspan x="1736.6">2</tspan></text>
<text x="1020.3" y="2942.2" font-size="46.8" text-anchor="middle">Models</text>
<text transform="translate(977.5 3009.7) scale(1 1.06)" font-size="46.8" text-anchor="middle">(c)</text>
<text transform="translate(59.3 2513.6) rotate(-90) scale(1 1.03)" font-size="47.5" textLength="293" lengthAdjust="spacing">MAE(mm/day)</text>
</g>
</svg>
</body>
</html>
